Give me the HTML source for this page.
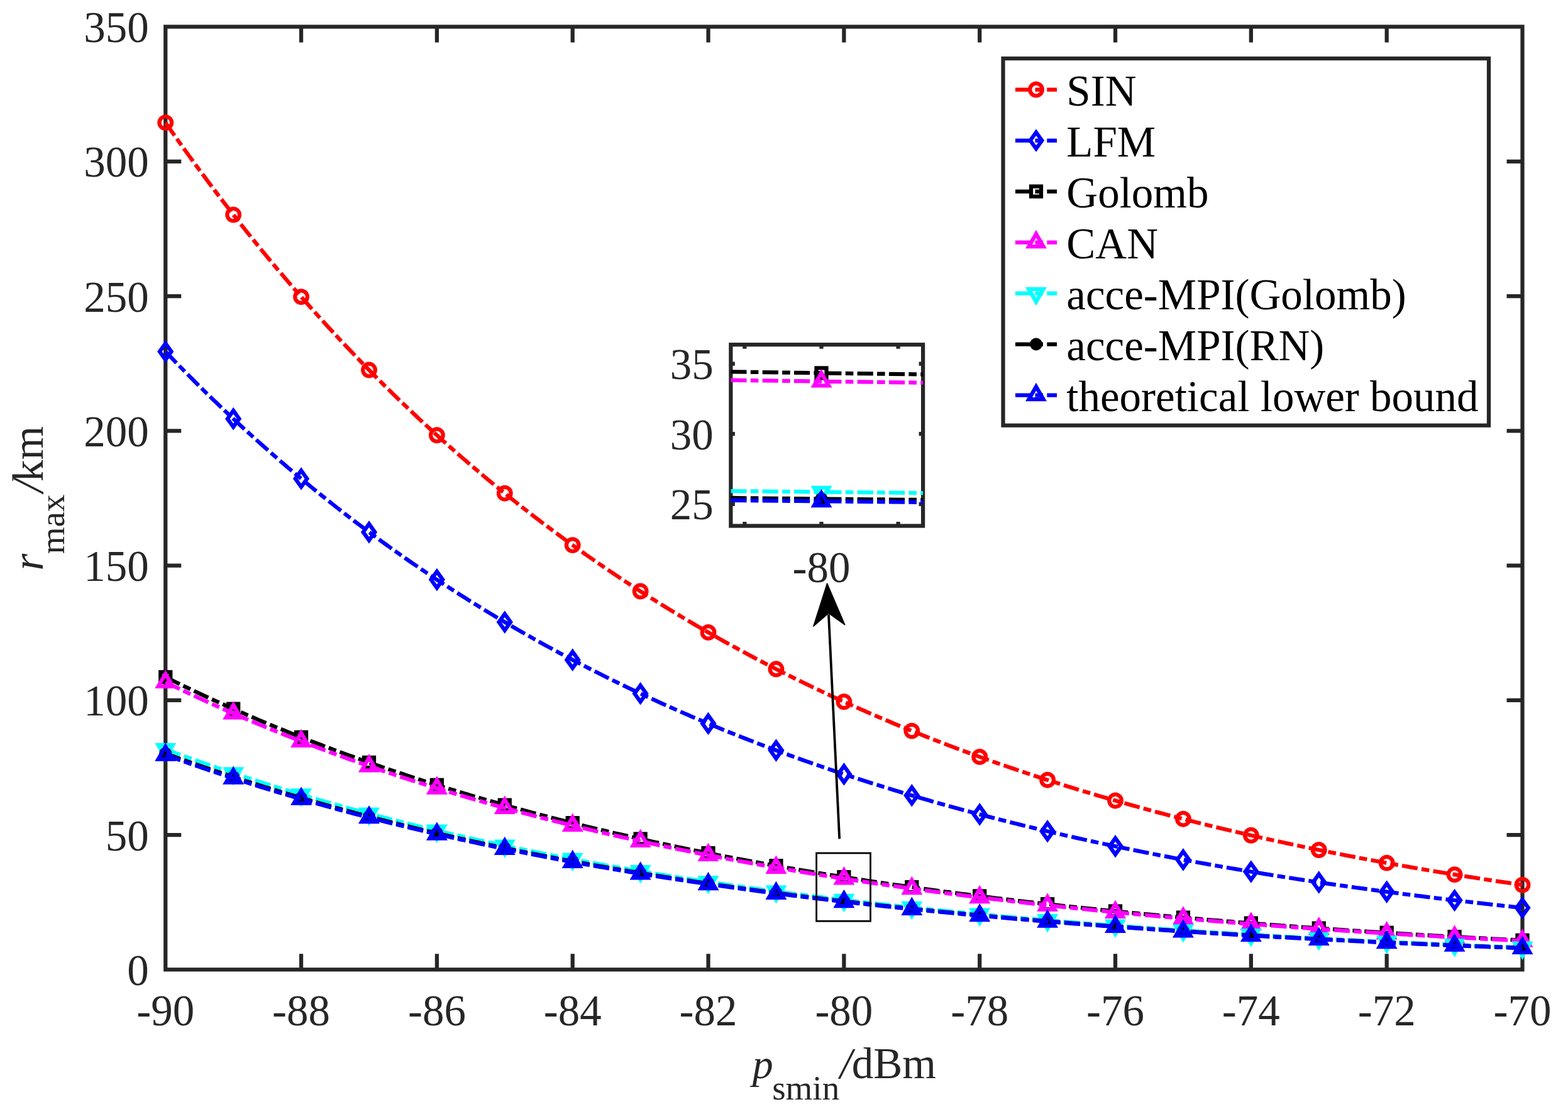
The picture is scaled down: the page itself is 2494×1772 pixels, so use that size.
<!DOCTYPE html>
<html><head><meta charset="utf-8"><title>plot</title>
<style>html,body{margin:0;padding:0;background:#fff;overflow:hidden}svg{display:block}</style></head>
<body><svg width="2494" height="1772" viewBox="0 0 2494 1772">
<rect x="0" y="0" width="2494" height="1772" fill="#fff"/>
<g stroke="#262626" stroke-width="6.25" fill="none">
<rect x="263.25" y="42.5" width="2158.25" height="1499.80"/>
<path d="M479.07,1542.3V1517.30M479.07,42.5V67.50M694.90,1542.3V1517.30M694.90,42.5V67.50M910.73,1542.3V1517.30M910.73,42.5V67.50M1126.55,1542.3V1517.30M1126.55,42.5V67.50M1342.38,1542.3V1517.30M1342.38,42.5V67.50M1558.20,1542.3V1517.30M1558.20,42.5V67.50M1774.03,1542.3V1517.30M1774.03,42.5V67.50M1989.85,1542.3V1517.30M1989.85,42.5V67.50M2205.68,1542.3V1517.30M2205.68,42.5V67.50M263.25,1328.04H288.25M2421.5,1328.04H2396.50M263.25,1113.79H288.25M2421.5,1113.79H2396.50M263.25,899.53H288.25M2421.5,899.53H2396.50M263.25,685.27H288.25M2421.5,685.27H2396.50M263.25,471.01H288.25M2421.5,471.01H2396.50M263.25,256.76H288.25M2421.5,256.76H2396.50"/>
</g>
<g style='font-family:"Liberation Serif",serif' font-size="69" fill="#262626">
<text x="263.25" y="1631.1" text-anchor="middle">-90</text>
<text x="479.07" y="1631.1" text-anchor="middle">-88</text>
<text x="694.90" y="1631.1" text-anchor="middle">-86</text>
<text x="910.73" y="1631.1" text-anchor="middle">-84</text>
<text x="1126.55" y="1631.1" text-anchor="middle">-82</text>
<text x="1342.38" y="1631.1" text-anchor="middle">-80</text>
<text x="1558.20" y="1631.1" text-anchor="middle">-78</text>
<text x="1774.03" y="1631.1" text-anchor="middle">-76</text>
<text x="1989.85" y="1631.1" text-anchor="middle">-74</text>
<text x="2205.68" y="1631.1" text-anchor="middle">-72</text>
<text x="2421.50" y="1631.1" text-anchor="middle">-70</text>
<text x="236.8" y="1567.00" text-anchor="end">0</text>
<text x="236.8" y="1352.74" text-anchor="end">50</text>
<text x="236.8" y="1138.49" text-anchor="end">100</text>
<text x="236.8" y="924.23" text-anchor="end">150</text>
<text x="236.8" y="709.97" text-anchor="end">200</text>
<text x="236.8" y="495.71" text-anchor="end">250</text>
<text x="236.8" y="281.46" text-anchor="end">300</text>
<text x="236.8" y="67.20" text-anchor="end">350</text>
</g>
<g style='font-family:"Liberation Serif",serif' fill="#262626">
<text x="1196.8" y="1714.9" font-size="66" font-style="italic">p</text>
<text x="1228.2" y="1749" font-size="55">smin</text>
<text x="1336.1" y="1714.9" font-size="69" font-style="italic">/</text>
<text x="1354.8" y="1714.9" font-size="69">dBm</text>
<g transform="rotate(-90)">
<text x="-907.6" y="68.4" font-size="69" font-style="italic">r</text>
<text x="-881.2" y="102.2" font-size="55">max</text>
<text x="-783.2" y="68.4" font-size="69" font-style="italic">/</text>
<text x="-766.1" y="68.4" font-size="69">km</text>
</g></g>
<polyline points="263.25,195.05 268.65,202.78 274.04,210.47 279.44,218.12 284.83,225.72 290.23,233.28 295.62,240.79 301.02,248.26 306.42,255.69 311.81,263.07 317.21,270.42 322.60,277.72 328.00,284.97 333.39,292.19 338.79,299.37 344.18,306.50 349.58,313.59 354.98,320.65 360.37,327.66 365.77,334.63 371.16,341.56 376.56,348.46 381.95,355.31 387.35,362.12 392.75,368.90 398.14,375.63 403.54,382.33 408.93,388.99 414.33,395.61 419.72,402.19 425.12,408.73 430.51,415.24 435.91,421.71 441.31,428.14 446.70,434.53 452.10,440.89 457.49,447.21 462.89,453.50 468.28,459.75 473.68,465.96 479.07,472.14 484.47,478.28 489.87,484.39 495.26,490.46 500.66,496.50 506.05,502.50 511.45,508.47 516.84,514.41 522.24,520.31 527.64,526.17 533.03,532.01 538.43,537.80 543.82,543.57 549.22,549.30 554.61,555.00 560.01,560.67 565.40,566.30 570.80,571.91 576.20,577.48 581.59,583.01 586.99,588.52 592.38,594.00 597.78,599.44 603.17,604.85 608.57,610.23 613.97,615.58 619.36,620.90 624.76,626.19 630.15,631.45 635.55,636.68 640.94,641.87 646.34,647.04 651.73,652.18 657.13,657.29 662.53,662.37 667.92,667.42 673.32,672.44 678.71,677.44 684.11,682.40 689.50,687.34 694.90,692.24 700.30,697.12 705.69,701.97 711.09,706.80 716.48,711.59 721.88,716.36 727.27,721.10 732.67,725.82 738.07,730.50 743.46,735.16 748.86,739.79 754.25,744.40 759.65,748.98 765.04,753.53 770.44,758.06 775.83,762.56 781.23,767.04 786.63,771.49 792.02,775.91 797.42,780.31 802.81,784.69 808.21,789.03 813.60,793.36 819.00,797.66 824.40,801.93 829.79,806.18 835.19,810.41 840.58,814.61 845.98,818.78 851.37,822.94 856.77,827.07 862.16,831.17 867.56,835.25 872.96,839.31 878.35,843.35 883.75,847.36 889.14,851.35 894.54,855.31 899.93,859.26 905.33,863.18 910.73,867.08 916.12,870.95 921.52,874.81 926.91,878.64 932.31,882.45 937.70,886.23 943.10,890.00 948.49,893.74 953.89,897.47 959.29,901.17 964.68,904.85 970.08,908.51 975.47,912.14 980.87,915.76 986.26,919.36 991.66,922.93 997.05,926.49 1002.45,930.02 1007.85,933.54 1013.24,937.03 1018.64,940.51 1024.03,943.96 1029.43,947.39 1034.82,950.81 1040.22,954.20 1045.62,957.58 1051.01,960.94 1056.41,964.27 1061.80,967.59 1067.20,970.89 1072.59,974.17 1077.99,977.43 1083.38,980.67 1088.78,983.90 1094.18,987.10 1099.57,990.29 1104.97,993.46 1110.36,996.61 1115.76,999.74 1121.15,1002.85 1126.55,1005.95 1131.95,1009.03 1137.34,1012.09 1142.74,1015.13 1148.13,1018.16 1153.53,1021.17 1158.92,1024.16 1164.32,1027.13 1169.72,1030.09 1175.11,1033.03 1180.51,1035.95 1185.90,1038.86 1191.30,1041.75 1196.69,1044.62 1202.09,1047.48 1207.48,1050.32 1212.88,1053.14 1218.28,1055.95 1223.67,1058.74 1229.07,1061.52 1234.46,1064.28 1239.86,1067.02 1245.25,1069.75 1250.65,1072.46 1256.05,1075.16 1261.44,1077.84 1266.84,1080.51 1272.23,1083.16 1277.63,1085.79 1283.02,1088.41 1288.42,1091.02 1293.81,1093.61 1299.21,1096.18 1304.61,1098.74 1310.00,1101.29 1315.40,1103.82 1320.79,1106.34 1326.19,1108.84 1331.58,1111.33 1336.98,1113.80 1342.38,1116.26 1347.77,1118.71 1353.17,1121.14 1358.56,1123.56 1363.96,1125.96 1369.35,1128.35 1374.75,1130.73 1380.14,1133.09 1385.54,1135.44 1390.94,1137.77 1396.33,1140.09 1401.73,1142.40 1407.12,1144.70 1412.52,1146.98 1417.91,1149.25 1423.31,1151.51 1428.70,1153.75 1434.10,1155.98 1439.50,1158.20 1444.89,1160.40 1450.29,1162.59 1455.68,1164.77 1461.08,1166.94 1466.47,1169.09 1471.87,1171.24 1477.27,1173.37 1482.66,1175.48 1488.06,1177.59 1493.45,1179.68 1498.85,1181.76 1504.24,1183.83 1509.64,1185.89 1515.03,1187.94 1520.43,1189.97 1525.83,1191.99 1531.22,1194.00 1536.62,1196.00 1542.01,1197.99 1547.41,1199.97 1552.80,1201.93 1558.20,1203.89 1563.60,1205.83 1568.99,1207.76 1574.39,1209.68 1579.78,1211.59 1585.18,1213.49 1590.57,1215.38 1595.97,1217.25 1601.37,1219.12 1606.76,1220.97 1612.16,1222.82 1617.55,1224.65 1622.95,1226.47 1628.34,1228.29 1633.74,1230.09 1639.13,1231.88 1644.53,1233.66 1649.93,1235.43 1655.32,1237.20 1660.72,1238.95 1666.11,1240.69 1671.51,1242.42 1676.90,1244.14 1682.30,1245.85 1687.70,1247.55 1693.09,1249.25 1698.49,1250.93 1703.88,1252.60 1709.28,1254.26 1714.67,1255.92 1720.07,1257.56 1725.46,1259.19 1730.86,1260.82 1736.26,1262.44 1741.65,1264.04 1747.05,1265.64 1752.44,1267.23 1757.84,1268.81 1763.23,1270.38 1768.63,1271.94 1774.03,1273.49 1779.42,1275.03 1784.82,1276.57 1790.21,1278.09 1795.61,1279.61 1801.00,1281.12 1806.40,1282.61 1811.79,1284.10 1817.19,1285.59 1822.59,1287.06 1827.98,1288.53 1833.38,1289.98 1838.77,1291.43 1844.17,1292.87 1849.56,1294.30 1854.96,1295.73 1860.35,1297.14 1865.75,1298.55 1871.15,1299.95 1876.54,1301.34 1881.94,1302.72 1887.33,1304.10 1892.73,1305.46 1898.12,1306.82 1903.52,1308.17 1908.92,1309.52 1914.31,1310.85 1919.71,1312.18 1925.10,1313.50 1930.50,1314.82 1935.89,1316.12 1941.29,1317.42 1946.68,1318.71 1952.08,1320.00 1957.48,1321.27 1962.87,1322.54 1968.27,1323.80 1973.66,1325.06 1979.06,1326.30 1984.45,1327.54 1989.85,1328.78 1995.25,1330.00 2000.64,1331.22 2006.04,1332.43 2011.43,1333.64 2016.83,1334.83 2022.22,1336.02 2027.62,1337.21 2033.02,1338.39 2038.41,1339.56 2043.81,1340.72 2049.20,1341.88 2054.60,1343.03 2059.99,1344.17 2065.39,1345.31 2070.78,1346.44 2076.18,1347.56 2081.58,1348.68 2086.97,1349.79 2092.37,1350.90 2097.76,1352.00 2103.16,1353.09 2108.55,1354.17 2113.95,1355.25 2119.35,1356.33 2124.74,1357.40 2130.14,1358.46 2135.53,1359.51 2140.93,1360.56 2146.32,1361.60 2151.72,1362.64 2157.11,1363.67 2162.51,1364.70 2167.91,1365.72 2173.30,1366.73 2178.70,1367.74 2184.09,1368.74 2189.49,1369.74 2194.88,1370.73 2200.28,1371.71 2205.68,1372.69 2211.07,1373.66 2216.47,1374.63 2221.86,1375.60 2227.26,1376.55 2232.65,1377.50 2238.05,1378.45 2243.44,1379.39 2248.84,1380.33 2254.24,1381.25 2259.63,1382.18 2265.03,1383.10 2270.42,1384.01 2275.82,1384.92 2281.21,1385.82 2286.61,1386.72 2292.00,1387.62 2297.40,1388.50 2302.80,1389.39 2308.19,1390.26 2313.59,1391.14 2318.98,1392.00 2324.38,1392.87 2329.77,1393.72 2335.17,1394.58 2340.57,1395.43 2345.96,1396.27 2351.36,1397.11 2356.75,1397.94 2362.15,1398.77 2367.54,1399.59 2372.94,1400.41 2378.33,1401.23 2383.73,1402.04 2389.13,1402.84 2394.52,1403.64 2399.92,1404.44 2405.31,1405.23 2410.71,1406.02 2416.10,1406.80 2421.50,1407.58" fill="none" stroke="#ff0000" stroke-width="6.25" stroke-dasharray="25.15 6.29 12.58 6.29" stroke-linejoin="round"/>
<circle cx="263.25" cy="195.05" r="9.8" stroke="#ff0000" stroke-width="6.25" fill="none"/>
<circle cx="371.16" cy="341.56" r="9.8" stroke="#ff0000" stroke-width="6.25" fill="none"/>
<circle cx="479.07" cy="472.14" r="9.8" stroke="#ff0000" stroke-width="6.25" fill="none"/>
<circle cx="586.99" cy="588.52" r="9.8" stroke="#ff0000" stroke-width="6.25" fill="none"/>
<circle cx="694.90" cy="692.24" r="9.8" stroke="#ff0000" stroke-width="6.25" fill="none"/>
<circle cx="802.81" cy="784.69" r="9.8" stroke="#ff0000" stroke-width="6.25" fill="none"/>
<circle cx="910.73" cy="867.08" r="9.8" stroke="#ff0000" stroke-width="6.25" fill="none"/>
<circle cx="1018.64" cy="940.51" r="9.8" stroke="#ff0000" stroke-width="6.25" fill="none"/>
<circle cx="1126.55" cy="1005.95" r="9.8" stroke="#ff0000" stroke-width="6.25" fill="none"/>
<circle cx="1234.46" cy="1064.28" r="9.8" stroke="#ff0000" stroke-width="6.25" fill="none"/>
<circle cx="1342.38" cy="1116.26" r="9.8" stroke="#ff0000" stroke-width="6.25" fill="none"/>
<circle cx="1450.29" cy="1162.59" r="9.8" stroke="#ff0000" stroke-width="6.25" fill="none"/>
<circle cx="1558.20" cy="1203.89" r="9.8" stroke="#ff0000" stroke-width="6.25" fill="none"/>
<circle cx="1666.11" cy="1240.69" r="9.8" stroke="#ff0000" stroke-width="6.25" fill="none"/>
<circle cx="1774.03" cy="1273.49" r="9.8" stroke="#ff0000" stroke-width="6.25" fill="none"/>
<circle cx="1881.94" cy="1302.72" r="9.8" stroke="#ff0000" stroke-width="6.25" fill="none"/>
<circle cx="1989.85" cy="1328.78" r="9.8" stroke="#ff0000" stroke-width="6.25" fill="none"/>
<circle cx="2097.76" cy="1352.00" r="9.8" stroke="#ff0000" stroke-width="6.25" fill="none"/>
<circle cx="2205.68" cy="1372.69" r="9.8" stroke="#ff0000" stroke-width="6.25" fill="none"/>
<circle cx="2313.59" cy="1391.14" r="9.8" stroke="#ff0000" stroke-width="6.25" fill="none"/>
<circle cx="2421.50" cy="1407.58" r="9.8" stroke="#ff0000" stroke-width="6.25" fill="none"/>
<polyline points="263.25,559.29 268.65,564.93 274.04,570.54 279.44,576.12 284.83,581.66 290.23,587.18 295.62,592.66 301.02,598.11 306.42,603.53 311.81,608.92 317.21,614.28 322.60,619.60 328.00,624.90 333.39,630.17 338.79,635.40 344.18,640.61 349.58,645.78 354.98,650.93 360.37,656.04 365.77,661.13 371.16,666.19 376.56,671.22 381.95,676.22 387.35,681.19 392.75,686.13 398.14,691.05 403.54,695.93 408.93,700.79 414.33,705.62 419.72,710.42 425.12,715.20 430.51,719.95 435.91,724.67 441.31,729.36 446.70,734.03 452.10,738.67 457.49,743.28 462.89,747.86 468.28,752.42 473.68,756.96 479.07,761.47 484.47,765.95 489.87,770.40 495.26,774.83 500.66,779.24 506.05,783.62 511.45,787.97 516.84,792.30 522.24,796.61 527.64,800.89 533.03,805.15 538.43,809.38 543.82,813.58 549.22,817.77 554.61,821.92 560.01,826.06 565.40,830.17 570.80,834.26 576.20,838.32 581.59,842.36 586.99,846.38 592.38,850.38 597.78,854.35 603.17,858.30 608.57,862.22 613.97,866.13 619.36,870.01 624.76,873.87 630.15,877.70 635.55,881.52 640.94,885.31 646.34,889.08 651.73,892.83 657.13,896.56 662.53,900.26 667.92,903.95 673.32,907.61 678.71,911.26 684.11,914.88 689.50,918.48 694.90,922.06 700.30,925.62 705.69,929.16 711.09,932.68 716.48,936.18 721.88,939.66 727.27,943.12 732.67,946.56 738.07,949.98 743.46,953.38 748.86,956.76 754.25,960.12 759.65,963.46 765.04,966.78 770.44,970.09 775.83,973.37 781.23,976.64 786.63,979.88 792.02,983.11 797.42,986.32 802.81,989.51 808.21,992.68 813.60,995.84 819.00,998.98 824.40,1002.09 829.79,1005.20 835.19,1008.28 840.58,1011.34 845.98,1014.39 851.37,1017.42 856.77,1020.43 862.16,1023.43 867.56,1026.41 872.96,1029.37 878.35,1032.31 883.75,1035.24 889.14,1038.15 894.54,1041.04 899.93,1043.92 905.33,1046.78 910.73,1049.63 916.12,1052.45 921.52,1055.27 926.91,1058.06 932.31,1060.84 937.70,1063.61 943.10,1066.35 948.49,1069.08 953.89,1071.80 959.29,1074.50 964.68,1077.19 970.08,1079.86 975.47,1082.51 980.87,1085.15 986.26,1087.77 991.66,1090.38 997.05,1092.98 1002.45,1095.56 1007.85,1098.12 1013.24,1100.67 1018.64,1103.20 1024.03,1105.73 1029.43,1108.23 1034.82,1110.72 1040.22,1113.20 1045.62,1115.66 1051.01,1118.11 1056.41,1120.55 1061.80,1122.97 1067.20,1125.37 1072.59,1127.77 1077.99,1130.15 1083.38,1132.51 1088.78,1134.86 1094.18,1137.20 1099.57,1139.53 1104.97,1141.84 1110.36,1144.14 1115.76,1146.42 1121.15,1148.70 1126.55,1150.96 1131.95,1153.20 1137.34,1155.44 1142.74,1157.66 1148.13,1159.86 1153.53,1162.06 1158.92,1164.24 1164.32,1166.41 1169.72,1168.57 1175.11,1170.71 1180.51,1172.85 1185.90,1174.97 1191.30,1177.08 1196.69,1179.17 1202.09,1181.26 1207.48,1183.33 1212.88,1185.39 1218.28,1187.44 1223.67,1189.48 1229.07,1191.50 1234.46,1193.51 1239.86,1195.52 1245.25,1197.51 1250.65,1199.49 1256.05,1201.45 1261.44,1203.41 1266.84,1205.36 1272.23,1207.29 1277.63,1209.21 1283.02,1211.12 1288.42,1213.03 1293.81,1214.92 1299.21,1216.79 1304.61,1218.66 1310.00,1220.52 1315.40,1222.37 1320.79,1224.20 1326.19,1226.03 1331.58,1227.84 1336.98,1229.65 1342.38,1231.44 1347.77,1233.23 1353.17,1235.00 1358.56,1236.77 1363.96,1238.52 1369.35,1240.26 1374.75,1242.00 1380.14,1243.72 1385.54,1245.44 1390.94,1247.14 1396.33,1248.83 1401.73,1250.52 1407.12,1252.19 1412.52,1253.86 1417.91,1255.51 1423.31,1257.16 1428.70,1258.80 1434.10,1260.42 1439.50,1262.04 1444.89,1263.65 1450.29,1265.25 1455.68,1266.84 1461.08,1268.42 1466.47,1269.99 1471.87,1271.56 1477.27,1273.11 1482.66,1274.66 1488.06,1276.19 1493.45,1277.72 1498.85,1279.24 1504.24,1280.75 1509.64,1282.25 1515.03,1283.74 1520.43,1285.23 1525.83,1286.70 1531.22,1288.17 1536.62,1289.63 1542.01,1291.08 1547.41,1292.52 1552.80,1293.95 1558.20,1295.38 1563.60,1296.80 1568.99,1298.21 1574.39,1299.61 1579.78,1301.00 1585.18,1302.38 1590.57,1303.76 1595.97,1305.13 1601.37,1306.49 1606.76,1307.85 1612.16,1309.19 1617.55,1310.53 1622.95,1311.86 1628.34,1313.18 1633.74,1314.50 1639.13,1315.80 1644.53,1317.11 1649.93,1318.40 1655.32,1319.68 1660.72,1320.96 1666.11,1322.23 1671.51,1323.49 1676.90,1324.75 1682.30,1326.00 1687.70,1327.24 1693.09,1328.47 1698.49,1329.70 1703.88,1330.92 1709.28,1332.14 1714.67,1333.34 1720.07,1334.54 1725.46,1335.73 1730.86,1336.92 1736.26,1338.10 1741.65,1339.27 1747.05,1340.44 1752.44,1341.59 1757.84,1342.75 1763.23,1343.89 1768.63,1345.03 1774.03,1346.16 1779.42,1347.29 1784.82,1348.41 1790.21,1349.52 1795.61,1350.63 1801.00,1351.73 1806.40,1352.82 1811.79,1353.91 1817.19,1354.99 1822.59,1356.07 1827.98,1357.14 1833.38,1358.20 1838.77,1359.25 1844.17,1360.31 1849.56,1361.35 1854.96,1362.39 1860.35,1363.42 1865.75,1364.45 1871.15,1365.47 1876.54,1366.48 1881.94,1367.49 1887.33,1368.50 1892.73,1369.49 1898.12,1370.49 1903.52,1371.47 1908.92,1372.45 1914.31,1373.43 1919.71,1374.40 1925.10,1375.36 1930.50,1376.32 1935.89,1377.27 1941.29,1378.22 1946.68,1379.16 1952.08,1380.10 1957.48,1381.03 1962.87,1381.95 1968.27,1382.87 1973.66,1383.79 1979.06,1384.70 1984.45,1385.60 1989.85,1386.50 1995.25,1387.40 2000.64,1388.29 2006.04,1389.17 2011.43,1390.05 2016.83,1390.92 2022.22,1391.79 2027.62,1392.66 2033.02,1393.52 2038.41,1394.37 2043.81,1395.22 2049.20,1396.06 2054.60,1396.90 2059.99,1397.74 2065.39,1398.57 2070.78,1399.39 2076.18,1400.21 2081.58,1401.03 2086.97,1401.84 2092.37,1402.64 2097.76,1403.45 2103.16,1404.24 2108.55,1405.04 2113.95,1405.82 2119.35,1406.61 2124.74,1407.39 2130.14,1408.16 2135.53,1408.93 2140.93,1409.70 2146.32,1410.46 2151.72,1411.21 2157.11,1411.97 2162.51,1412.71 2167.91,1413.46 2173.30,1414.20 2178.70,1414.93 2184.09,1415.66 2189.49,1416.39 2194.88,1417.11 2200.28,1417.83 2205.68,1418.55 2211.07,1419.26 2216.47,1419.96 2221.86,1420.66 2227.26,1421.36 2232.65,1422.06 2238.05,1422.75 2243.44,1423.43 2248.84,1424.12 2254.24,1424.79 2259.63,1425.47 2265.03,1426.14 2270.42,1426.81 2275.82,1427.47 2281.21,1428.13 2286.61,1428.78 2292.00,1429.44 2297.40,1430.08 2302.80,1430.73 2308.19,1431.37 2313.59,1432.00 2318.98,1432.64 2324.38,1433.27 2329.77,1433.89 2335.17,1434.51 2340.57,1435.13 2345.96,1435.75 2351.36,1436.36 2356.75,1436.97 2362.15,1437.57 2367.54,1438.17 2372.94,1438.77 2378.33,1439.37 2383.73,1439.96 2389.13,1440.54 2394.52,1441.13 2399.92,1441.71 2405.31,1442.29 2410.71,1442.86 2416.10,1443.43 2421.50,1444.00" fill="none" stroke="#0000ff" stroke-width="6.25" stroke-dasharray="25.15 6.29 12.58 6.29" stroke-linejoin="round"/>
<polygon points="263.25,546.29 272.55,559.29 263.25,572.29 253.95,559.29" stroke="#0000ff" stroke-width="6.25" fill="none" stroke-miterlimit="10"/>
<polygon points="371.16,653.19 380.46,666.19 371.16,679.19 361.86,666.19" stroke="#0000ff" stroke-width="6.25" fill="none" stroke-miterlimit="10"/>
<polygon points="479.07,748.47 488.38,761.47 479.07,774.47 469.77,761.47" stroke="#0000ff" stroke-width="6.25" fill="none" stroke-miterlimit="10"/>
<polygon points="586.99,833.38 596.29,846.38 586.99,859.38 577.69,846.38" stroke="#0000ff" stroke-width="6.25" fill="none" stroke-miterlimit="10"/>
<polygon points="694.90,909.06 704.20,922.06 694.90,935.06 685.60,922.06" stroke="#0000ff" stroke-width="6.25" fill="none" stroke-miterlimit="10"/>
<polygon points="802.81,976.51 812.11,989.51 802.81,1002.51 793.51,989.51" stroke="#0000ff" stroke-width="6.25" fill="none" stroke-miterlimit="10"/>
<polygon points="910.73,1036.63 920.02,1049.63 910.73,1062.63 901.43,1049.63" stroke="#0000ff" stroke-width="6.25" fill="none" stroke-miterlimit="10"/>
<polygon points="1018.64,1090.20 1027.94,1103.20 1018.64,1116.20 1009.34,1103.20" stroke="#0000ff" stroke-width="6.25" fill="none" stroke-miterlimit="10"/>
<polygon points="1126.55,1137.96 1135.85,1150.96 1126.55,1163.96 1117.25,1150.96" stroke="#0000ff" stroke-width="6.25" fill="none" stroke-miterlimit="10"/>
<polygon points="1234.46,1180.51 1243.76,1193.51 1234.46,1206.51 1225.16,1193.51" stroke="#0000ff" stroke-width="6.25" fill="none" stroke-miterlimit="10"/>
<polygon points="1342.38,1218.44 1351.67,1231.44 1342.38,1244.44 1333.08,1231.44" stroke="#0000ff" stroke-width="6.25" fill="none" stroke-miterlimit="10"/>
<polygon points="1450.29,1252.25 1459.59,1265.25 1450.29,1278.25 1440.99,1265.25" stroke="#0000ff" stroke-width="6.25" fill="none" stroke-miterlimit="10"/>
<polygon points="1558.20,1282.38 1567.50,1295.38 1558.20,1308.38 1548.90,1295.38" stroke="#0000ff" stroke-width="6.25" fill="none" stroke-miterlimit="10"/>
<polygon points="1666.11,1309.23 1675.41,1322.23 1666.11,1335.23 1656.81,1322.23" stroke="#0000ff" stroke-width="6.25" fill="none" stroke-miterlimit="10"/>
<polygon points="1774.03,1333.16 1783.33,1346.16 1774.03,1359.16 1764.73,1346.16" stroke="#0000ff" stroke-width="6.25" fill="none" stroke-miterlimit="10"/>
<polygon points="1881.94,1354.49 1891.24,1367.49 1881.94,1380.49 1872.64,1367.49" stroke="#0000ff" stroke-width="6.25" fill="none" stroke-miterlimit="10"/>
<polygon points="1989.85,1373.50 1999.15,1386.50 1989.85,1399.50 1980.55,1386.50" stroke="#0000ff" stroke-width="6.25" fill="none" stroke-miterlimit="10"/>
<polygon points="2097.76,1390.45 2107.06,1403.45 2097.76,1416.45 2088.46,1403.45" stroke="#0000ff" stroke-width="6.25" fill="none" stroke-miterlimit="10"/>
<polygon points="2205.68,1405.55 2214.98,1418.55 2205.68,1431.55 2196.38,1418.55" stroke="#0000ff" stroke-width="6.25" fill="none" stroke-miterlimit="10"/>
<polygon points="2313.59,1419.00 2322.89,1432.00 2313.59,1445.00 2304.29,1432.00" stroke="#0000ff" stroke-width="6.25" fill="none" stroke-miterlimit="10"/>
<polygon points="2421.50,1431.00 2430.80,1444.00 2421.50,1457.00 2412.20,1444.00" stroke="#0000ff" stroke-width="6.25" fill="none" stroke-miterlimit="10"/>
<polyline points="263.25,1077.02 268.65,1079.69 274.04,1082.35 279.44,1084.99 284.83,1087.61 290.23,1090.22 295.62,1092.82 301.02,1095.40 306.42,1097.96 311.81,1100.51 317.21,1103.05 322.60,1105.57 328.00,1108.07 333.39,1110.57 338.79,1113.05 344.18,1115.51 349.58,1117.96 354.98,1120.39 360.37,1122.82 365.77,1125.22 371.16,1127.62 376.56,1130.00 381.95,1132.36 387.35,1134.72 392.75,1137.06 398.14,1139.38 403.54,1141.70 408.93,1144.00 414.33,1146.28 419.72,1148.55 425.12,1150.81 430.51,1153.06 435.91,1155.30 441.31,1157.52 446.70,1159.73 452.10,1161.92 457.49,1164.11 462.89,1166.28 468.28,1168.43 473.68,1170.58 479.07,1172.71 484.47,1174.84 489.87,1176.94 495.26,1179.04 500.66,1181.13 506.05,1183.20 511.45,1185.26 516.84,1187.31 522.24,1189.35 527.64,1191.37 533.03,1193.39 538.43,1195.39 543.82,1197.38 549.22,1199.36 554.61,1201.33 560.01,1203.29 565.40,1205.23 570.80,1207.17 576.20,1209.09 581.59,1211.00 586.99,1212.91 592.38,1214.80 597.78,1216.68 603.17,1218.55 608.57,1220.40 613.97,1222.25 619.36,1224.09 624.76,1225.92 630.15,1227.73 635.55,1229.54 640.94,1231.33 646.34,1233.12 651.73,1234.89 657.13,1236.66 662.53,1238.41 667.92,1240.16 673.32,1241.89 678.71,1243.61 684.11,1245.33 689.50,1247.03 694.90,1248.73 700.30,1250.41 705.69,1252.09 711.09,1253.75 716.48,1255.41 721.88,1257.06 727.27,1258.69 732.67,1260.32 738.07,1261.94 743.46,1263.55 748.86,1265.15 754.25,1266.74 759.65,1268.32 765.04,1269.89 770.44,1271.46 775.83,1273.01 781.23,1274.56 786.63,1276.10 792.02,1277.62 797.42,1279.14 802.81,1280.65 808.21,1282.16 813.60,1283.65 819.00,1285.13 824.40,1286.61 829.79,1288.08 835.19,1289.54 840.58,1290.99 845.98,1292.43 851.37,1293.86 856.77,1295.29 862.16,1296.71 867.56,1298.12 872.96,1299.52 878.35,1300.91 883.75,1302.30 889.14,1303.68 894.54,1305.05 899.93,1306.41 905.33,1307.76 910.73,1309.11 916.12,1310.45 921.52,1311.78 926.91,1313.10 932.31,1314.42 937.70,1315.72 943.10,1317.02 948.49,1318.32 953.89,1319.60 959.29,1320.88 964.68,1322.15 970.08,1323.42 975.47,1324.67 980.87,1325.92 986.26,1327.16 991.66,1328.40 997.05,1329.63 1002.45,1330.85 1007.85,1332.06 1013.24,1333.27 1018.64,1334.47 1024.03,1335.66 1029.43,1336.85 1034.82,1338.03 1040.22,1339.20 1045.62,1340.36 1051.01,1341.52 1056.41,1342.67 1061.80,1343.82 1067.20,1344.96 1072.59,1346.09 1077.99,1347.22 1083.38,1348.34 1088.78,1349.45 1094.18,1350.56 1099.57,1351.66 1104.97,1352.75 1110.36,1353.84 1115.76,1354.92 1121.15,1356.00 1126.55,1357.07 1131.95,1358.13 1137.34,1359.19 1142.74,1360.24 1148.13,1361.28 1153.53,1362.32 1158.92,1363.36 1164.32,1364.38 1169.72,1365.41 1175.11,1366.42 1180.51,1367.43 1185.90,1368.43 1191.30,1369.43 1196.69,1370.42 1202.09,1371.41 1207.48,1372.39 1212.88,1373.37 1218.28,1374.34 1223.67,1375.30 1229.07,1376.26 1234.46,1377.21 1239.86,1378.16 1245.25,1379.10 1250.65,1380.04 1256.05,1380.97 1261.44,1381.90 1266.84,1382.82 1272.23,1383.73 1277.63,1384.64 1283.02,1385.55 1288.42,1386.45 1293.81,1387.34 1299.21,1388.23 1304.61,1389.12 1310.00,1389.99 1315.40,1390.87 1320.79,1391.74 1326.19,1392.60 1331.58,1393.46 1336.98,1394.32 1342.38,1395.17 1347.77,1396.01 1353.17,1396.85 1358.56,1397.68 1363.96,1398.51 1369.35,1399.34 1374.75,1400.16 1380.14,1400.98 1385.54,1401.79 1390.94,1402.59 1396.33,1403.40 1401.73,1404.19 1407.12,1404.99 1412.52,1405.77 1417.91,1406.56 1423.31,1407.34 1428.70,1408.11 1434.10,1408.88 1439.50,1409.65 1444.89,1410.41 1450.29,1411.17 1455.68,1411.92 1461.08,1412.67 1466.47,1413.41 1471.87,1414.15 1477.27,1414.89 1482.66,1415.62 1488.06,1416.35 1493.45,1417.07 1498.85,1417.79 1504.24,1418.50 1509.64,1419.21 1515.03,1419.92 1520.43,1420.62 1525.83,1421.32 1531.22,1422.01 1536.62,1422.70 1542.01,1423.39 1547.41,1424.07 1552.80,1424.75 1558.20,1425.43 1563.60,1426.10 1568.99,1426.76 1574.39,1427.43 1579.78,1428.09 1585.18,1428.74 1590.57,1429.39 1595.97,1430.04 1601.37,1430.69 1606.76,1431.33 1612.16,1431.96 1617.55,1432.60 1622.95,1433.23 1628.34,1433.85 1633.74,1434.48 1639.13,1435.09 1644.53,1435.71 1649.93,1436.32 1655.32,1436.93 1660.72,1437.54 1666.11,1438.14 1671.51,1438.73 1676.90,1439.33 1682.30,1439.92 1687.70,1440.51 1693.09,1441.09 1698.49,1441.67 1703.88,1442.25 1709.28,1442.82 1714.67,1443.40 1720.07,1443.96 1725.46,1444.53 1730.86,1445.09 1736.26,1445.65 1741.65,1446.20 1747.05,1446.75 1752.44,1447.30 1757.84,1447.85 1763.23,1448.39 1768.63,1448.93 1774.03,1449.46 1779.42,1450.00 1784.82,1450.53 1790.21,1451.05 1795.61,1451.58 1801.00,1452.10 1806.40,1452.62 1811.79,1453.13 1817.19,1453.64 1822.59,1454.15 1827.98,1454.66 1833.38,1455.16 1838.77,1455.66 1844.17,1456.16 1849.56,1456.65 1854.96,1457.14 1860.35,1457.63 1865.75,1458.12 1871.15,1458.60 1876.54,1459.08 1881.94,1459.56 1887.33,1460.03 1892.73,1460.51 1898.12,1460.98 1903.52,1461.44 1908.92,1461.91 1914.31,1462.37 1919.71,1462.83 1925.10,1463.28 1930.50,1463.74 1935.89,1464.19 1941.29,1464.64 1946.68,1465.08 1952.08,1465.53 1957.48,1465.97 1962.87,1466.40 1968.27,1466.84 1973.66,1467.27 1979.06,1467.70 1984.45,1468.13 1989.85,1468.56 1995.25,1468.98 2000.64,1469.40 2006.04,1469.82 2011.43,1470.24 2016.83,1470.65 2022.22,1471.06 2027.62,1471.47 2033.02,1471.88 2038.41,1472.28 2043.81,1472.68 2049.20,1473.08 2054.60,1473.48 2059.99,1473.87 2065.39,1474.27 2070.78,1474.66 2076.18,1475.05 2081.58,1475.43 2086.97,1475.82 2092.37,1476.20 2097.76,1476.58 2103.16,1476.95 2108.55,1477.33 2113.95,1477.70 2119.35,1478.07 2124.74,1478.44 2130.14,1478.81 2135.53,1479.17 2140.93,1479.54 2146.32,1479.90 2151.72,1480.25 2157.11,1480.61 2162.51,1480.96 2167.91,1481.32 2173.30,1481.67 2178.70,1482.01 2184.09,1482.36 2189.49,1482.70 2194.88,1483.05 2200.28,1483.39 2205.68,1483.72 2211.07,1484.06 2216.47,1484.40 2221.86,1484.73 2227.26,1485.06 2232.65,1485.39 2238.05,1485.71 2243.44,1486.04 2248.84,1486.36 2254.24,1486.68 2259.63,1487.00 2265.03,1487.32 2270.42,1487.63 2275.82,1487.95 2281.21,1488.26 2286.61,1488.57 2292.00,1488.88 2297.40,1489.19 2302.80,1489.49 2308.19,1489.79 2313.59,1490.09 2318.98,1490.39 2324.38,1490.69 2329.77,1490.99 2335.17,1491.28 2340.57,1491.58 2345.96,1491.87 2351.36,1492.16 2356.75,1492.44 2362.15,1492.73 2367.54,1493.01 2372.94,1493.30 2378.33,1493.58 2383.73,1493.86 2389.13,1494.14 2394.52,1494.41 2399.92,1494.69 2405.31,1494.96 2410.71,1495.23 2416.10,1495.50 2421.50,1495.77" fill="none" stroke="#000000" stroke-width="6.25" stroke-dasharray="25.15 6.29 12.58 6.29" stroke-linejoin="round"/>
<rect x="255.25" y="1069.02" width="16.0" height="16.0" stroke="#000000" stroke-width="6.25" fill="none"/>
<rect x="363.16" y="1119.62" width="16.0" height="16.0" stroke="#000000" stroke-width="6.25" fill="none"/>
<rect x="471.07" y="1164.71" width="16.0" height="16.0" stroke="#000000" stroke-width="6.25" fill="none"/>
<rect x="578.99" y="1204.91" width="16.0" height="16.0" stroke="#000000" stroke-width="6.25" fill="none"/>
<rect x="686.90" y="1240.73" width="16.0" height="16.0" stroke="#000000" stroke-width="6.25" fill="none"/>
<rect x="794.81" y="1272.65" width="16.0" height="16.0" stroke="#000000" stroke-width="6.25" fill="none"/>
<rect x="902.73" y="1301.11" width="16.0" height="16.0" stroke="#000000" stroke-width="6.25" fill="none"/>
<rect x="1010.64" y="1326.47" width="16.0" height="16.0" stroke="#000000" stroke-width="6.25" fill="none"/>
<rect x="1118.55" y="1349.07" width="16.0" height="16.0" stroke="#000000" stroke-width="6.25" fill="none"/>
<rect x="1226.46" y="1369.21" width="16.0" height="16.0" stroke="#000000" stroke-width="6.25" fill="none"/>
<rect x="1334.38" y="1387.17" width="16.0" height="16.0" stroke="#000000" stroke-width="6.25" fill="none"/>
<rect x="1442.29" y="1403.17" width="16.0" height="16.0" stroke="#000000" stroke-width="6.25" fill="none"/>
<rect x="1550.20" y="1417.43" width="16.0" height="16.0" stroke="#000000" stroke-width="6.25" fill="none"/>
<rect x="1658.11" y="1430.14" width="16.0" height="16.0" stroke="#000000" stroke-width="6.25" fill="none"/>
<rect x="1766.03" y="1441.46" width="16.0" height="16.0" stroke="#000000" stroke-width="6.25" fill="none"/>
<rect x="1873.94" y="1451.56" width="16.0" height="16.0" stroke="#000000" stroke-width="6.25" fill="none"/>
<rect x="1981.85" y="1460.56" width="16.0" height="16.0" stroke="#000000" stroke-width="6.25" fill="none"/>
<rect x="2089.76" y="1468.58" width="16.0" height="16.0" stroke="#000000" stroke-width="6.25" fill="none"/>
<rect x="2197.68" y="1475.72" width="16.0" height="16.0" stroke="#000000" stroke-width="6.25" fill="none"/>
<rect x="2305.59" y="1482.09" width="16.0" height="16.0" stroke="#000000" stroke-width="6.25" fill="none"/>
<rect x="2413.50" y="1487.77" width="16.0" height="16.0" stroke="#000000" stroke-width="6.25" fill="none"/>
<polyline points="263.25,1085.08 268.65,1087.70 274.04,1090.31 279.44,1092.90 284.83,1095.48 290.23,1098.05 295.62,1100.60 301.02,1103.13 306.42,1105.65 311.81,1108.16 317.21,1110.65 322.60,1113.13 328.00,1115.59 333.39,1118.04 338.79,1120.48 344.18,1122.90 349.58,1125.31 354.98,1127.70 360.37,1130.08 365.77,1132.45 371.16,1134.80 376.56,1137.14 381.95,1139.46 387.35,1141.77 392.75,1144.07 398.14,1146.36 403.54,1148.63 408.93,1150.89 414.33,1153.14 419.72,1155.37 425.12,1157.59 430.51,1159.80 435.91,1162.00 441.31,1164.18 446.70,1166.35 452.10,1168.51 457.49,1170.65 462.89,1172.79 468.28,1174.91 473.68,1177.02 479.07,1179.11 484.47,1181.20 489.87,1183.27 495.26,1185.33 500.66,1187.38 506.05,1189.42 511.45,1191.44 516.84,1193.46 522.24,1195.46 527.64,1197.45 533.03,1199.43 538.43,1201.40 543.82,1203.35 549.22,1205.30 554.61,1207.23 560.01,1209.16 565.40,1211.07 570.80,1212.97 576.20,1214.86 581.59,1216.74 586.99,1218.61 592.38,1220.47 597.78,1222.31 603.17,1224.15 608.57,1225.98 613.97,1227.79 619.36,1229.60 624.76,1231.39 630.15,1233.18 635.55,1234.95 640.94,1236.72 646.34,1238.47 651.73,1240.21 657.13,1241.95 662.53,1243.67 667.92,1245.39 673.32,1247.09 678.71,1248.79 684.11,1250.47 689.50,1252.15 694.90,1253.81 700.30,1255.47 705.69,1257.11 711.09,1258.75 716.48,1260.38 721.88,1262.00 727.27,1263.60 732.67,1265.20 738.07,1266.79 743.46,1268.38 748.86,1269.95 754.25,1271.51 759.65,1273.07 765.04,1274.61 770.44,1276.15 775.83,1277.68 781.23,1279.19 786.63,1280.70 792.02,1282.21 797.42,1283.70 802.81,1285.18 808.21,1286.66 813.60,1288.13 819.00,1289.59 824.40,1291.04 829.79,1292.48 835.19,1293.91 840.58,1295.34 845.98,1296.76 851.37,1298.17 856.77,1299.57 862.16,1300.96 867.56,1302.35 872.96,1303.72 878.35,1305.09 883.75,1306.45 889.14,1307.81 894.54,1309.15 899.93,1310.49 905.33,1311.82 910.73,1313.14 916.12,1314.46 921.52,1315.77 926.91,1317.07 932.31,1318.36 937.70,1319.65 943.10,1320.92 948.49,1322.20 953.89,1323.46 959.29,1324.71 964.68,1325.96 970.08,1327.21 975.47,1328.44 980.87,1329.67 986.26,1330.89 991.66,1332.10 997.05,1333.31 1002.45,1334.51 1007.85,1335.70 1013.24,1336.89 1018.64,1338.07 1024.03,1339.24 1029.43,1340.40 1034.82,1341.56 1040.22,1342.71 1045.62,1343.86 1051.01,1345.00 1056.41,1346.13 1061.80,1347.26 1067.20,1348.38 1072.59,1349.49 1077.99,1350.60 1083.38,1351.70 1088.78,1352.79 1094.18,1353.88 1099.57,1354.96 1104.97,1356.04 1110.36,1357.10 1115.76,1358.17 1121.15,1359.22 1126.55,1360.28 1131.95,1361.32 1137.34,1362.36 1142.74,1363.39 1148.13,1364.42 1153.53,1365.44 1158.92,1366.46 1164.32,1367.46 1169.72,1368.47 1175.11,1369.47 1180.51,1370.46 1185.90,1371.44 1191.30,1372.42 1196.69,1373.40 1202.09,1374.37 1207.48,1375.33 1212.88,1376.29 1218.28,1377.24 1223.67,1378.19 1229.07,1379.13 1234.46,1380.07 1239.86,1381.00 1245.25,1381.93 1250.65,1382.85 1256.05,1383.76 1261.44,1384.67 1266.84,1385.58 1272.23,1386.48 1277.63,1387.37 1283.02,1388.26 1288.42,1389.15 1293.81,1390.02 1299.21,1390.90 1304.61,1391.77 1310.00,1392.63 1315.40,1393.49 1320.79,1394.34 1326.19,1395.19 1331.58,1396.04 1336.98,1396.88 1342.38,1397.71 1347.77,1398.54 1353.17,1399.37 1358.56,1400.19 1363.96,1401.00 1369.35,1401.82 1374.75,1402.62 1380.14,1403.42 1385.54,1404.22 1390.94,1405.01 1396.33,1405.80 1401.73,1406.58 1407.12,1407.36 1412.52,1408.14 1417.91,1408.91 1423.31,1409.67 1428.70,1410.43 1434.10,1411.19 1439.50,1411.94 1444.89,1412.69 1450.29,1413.44 1455.68,1414.18 1461.08,1414.91 1466.47,1415.64 1471.87,1416.37 1477.27,1417.09 1482.66,1417.81 1488.06,1418.53 1493.45,1419.24 1498.85,1419.94 1504.24,1420.65 1509.64,1421.34 1515.03,1422.04 1520.43,1422.73 1525.83,1423.41 1531.22,1424.10 1536.62,1424.78 1542.01,1425.45 1547.41,1426.12 1552.80,1426.79 1558.20,1427.45 1563.60,1428.11 1568.99,1428.77 1574.39,1429.42 1579.78,1430.06 1585.18,1430.71 1590.57,1431.35 1595.97,1431.99 1601.37,1432.62 1606.76,1433.25 1612.16,1433.87 1617.55,1434.50 1622.95,1435.12 1628.34,1435.73 1633.74,1436.34 1639.13,1436.95 1644.53,1437.56 1649.93,1438.16 1655.32,1438.75 1660.72,1439.35 1666.11,1439.94 1671.51,1440.53 1676.90,1441.11 1682.30,1441.69 1687.70,1442.27 1693.09,1442.84 1698.49,1443.42 1703.88,1443.98 1709.28,1444.55 1714.67,1445.11 1720.07,1445.67 1725.46,1446.22 1730.86,1446.77 1736.26,1447.32 1741.65,1447.87 1747.05,1448.41 1752.44,1448.95 1757.84,1449.48 1763.23,1450.02 1768.63,1450.55 1774.03,1451.07 1779.42,1451.60 1784.82,1452.12 1790.21,1452.63 1795.61,1453.15 1801.00,1453.66 1806.40,1454.17 1811.79,1454.67 1817.19,1455.18 1822.59,1455.68 1827.98,1456.17 1833.38,1456.67 1838.77,1457.16 1844.17,1457.65 1849.56,1458.14 1854.96,1458.62 1860.35,1459.10 1865.75,1459.58 1871.15,1460.05 1876.54,1460.52 1881.94,1460.99 1887.33,1461.46 1892.73,1461.92 1898.12,1462.38 1903.52,1462.84 1908.92,1463.30 1914.31,1463.75 1919.71,1464.20 1925.10,1464.65 1930.50,1465.10 1935.89,1465.54 1941.29,1465.98 1946.68,1466.42 1952.08,1466.86 1957.48,1467.29 1962.87,1467.72 1968.27,1468.15 1973.66,1468.57 1979.06,1469.00 1984.45,1469.42 1989.85,1469.83 1995.25,1470.25 2000.64,1470.66 2006.04,1471.08 2011.43,1471.48 2016.83,1471.89 2022.22,1472.29 2027.62,1472.70 2033.02,1473.10 2038.41,1473.49 2043.81,1473.89 2049.20,1474.28 2054.60,1474.67 2059.99,1475.06 2065.39,1475.45 2070.78,1475.83 2076.18,1476.21 2081.58,1476.59 2086.97,1476.97 2092.37,1477.34 2097.76,1477.72 2103.16,1478.09 2108.55,1478.45 2113.95,1478.82 2119.35,1479.19 2124.74,1479.55 2130.14,1479.91 2135.53,1480.27 2140.93,1480.62 2146.32,1480.98 2151.72,1481.33 2157.11,1481.68 2162.51,1482.03 2167.91,1482.37 2173.30,1482.72 2178.70,1483.06 2184.09,1483.40 2189.49,1483.74 2194.88,1484.07 2200.28,1484.41 2205.68,1484.74 2211.07,1485.07 2216.47,1485.40 2221.86,1485.72 2227.26,1486.05 2232.65,1486.37 2238.05,1486.69 2243.44,1487.01 2248.84,1487.33 2254.24,1487.65 2259.63,1487.96 2265.03,1488.27 2270.42,1488.58 2275.82,1488.89 2281.21,1489.20 2286.61,1489.50 2292.00,1489.80 2297.40,1490.10 2302.80,1490.40 2308.19,1490.70 2313.59,1491.00 2318.98,1491.29 2324.38,1491.59 2329.77,1491.88 2335.17,1492.17 2340.57,1492.45 2345.96,1492.74 2351.36,1493.02 2356.75,1493.31 2362.15,1493.59 2367.54,1493.87 2372.94,1494.15 2378.33,1494.42 2383.73,1494.70 2389.13,1494.97 2394.52,1495.24 2399.92,1495.51 2405.31,1495.78 2410.71,1496.05 2416.10,1496.31 2421.50,1496.58" fill="none" stroke="#ff00ff" stroke-width="6.25" stroke-dasharray="25.15 6.29 12.58 6.29" stroke-linejoin="round"/>
<polygon points="263.25,1071.70 274.84,1091.77 251.66,1091.77" stroke="#ff00ff" stroke-width="6.25" fill="none" stroke-miterlimit="10"/>
<polygon points="371.16,1121.42 382.75,1141.49 359.58,1141.49" stroke="#ff00ff" stroke-width="6.25" fill="none" stroke-miterlimit="10"/>
<polygon points="479.07,1165.73 490.66,1185.80 467.49,1185.80" stroke="#ff00ff" stroke-width="6.25" fill="none" stroke-miterlimit="10"/>
<polygon points="586.99,1205.23 598.57,1225.30 575.40,1225.30" stroke="#ff00ff" stroke-width="6.25" fill="none" stroke-miterlimit="10"/>
<polygon points="694.90,1240.43 706.49,1260.50 683.31,1260.50" stroke="#ff00ff" stroke-width="6.25" fill="none" stroke-miterlimit="10"/>
<polygon points="802.81,1271.80 814.40,1291.87 791.23,1291.87" stroke="#ff00ff" stroke-width="6.25" fill="none" stroke-miterlimit="10"/>
<polygon points="910.73,1299.76 922.31,1319.83 899.14,1319.83" stroke="#ff00ff" stroke-width="6.25" fill="none" stroke-miterlimit="10"/>
<polygon points="1018.64,1324.69 1030.22,1344.76 1007.05,1344.76" stroke="#ff00ff" stroke-width="6.25" fill="none" stroke-miterlimit="10"/>
<polygon points="1126.55,1346.90 1138.14,1366.97 1114.96,1366.97" stroke="#ff00ff" stroke-width="6.25" fill="none" stroke-miterlimit="10"/>
<polygon points="1234.46,1366.69 1246.05,1386.76 1222.88,1386.76" stroke="#ff00ff" stroke-width="6.25" fill="none" stroke-miterlimit="10"/>
<polygon points="1342.38,1384.33 1353.96,1404.40 1330.79,1404.40" stroke="#ff00ff" stroke-width="6.25" fill="none" stroke-miterlimit="10"/>
<polygon points="1450.29,1400.06 1461.87,1420.13 1438.70,1420.13" stroke="#ff00ff" stroke-width="6.25" fill="none" stroke-miterlimit="10"/>
<polygon points="1558.20,1414.07 1569.79,1434.14 1546.61,1434.14" stroke="#ff00ff" stroke-width="6.25" fill="none" stroke-miterlimit="10"/>
<polygon points="1666.11,1426.56 1677.70,1446.63 1654.53,1446.63" stroke="#ff00ff" stroke-width="6.25" fill="none" stroke-miterlimit="10"/>
<polygon points="1774.03,1437.69 1785.61,1457.76 1762.44,1457.76" stroke="#ff00ff" stroke-width="6.25" fill="none" stroke-miterlimit="10"/>
<polygon points="1881.94,1447.61 1893.52,1467.68 1870.35,1467.68" stroke="#ff00ff" stroke-width="6.25" fill="none" stroke-miterlimit="10"/>
<polygon points="1989.85,1456.45 2001.44,1476.52 1978.26,1476.52" stroke="#ff00ff" stroke-width="6.25" fill="none" stroke-miterlimit="10"/>
<polygon points="2097.76,1464.34 2109.35,1484.41 2086.18,1484.41" stroke="#ff00ff" stroke-width="6.25" fill="none" stroke-miterlimit="10"/>
<polygon points="2205.68,1471.36 2217.26,1491.43 2194.09,1491.43" stroke="#ff00ff" stroke-width="6.25" fill="none" stroke-miterlimit="10"/>
<polygon points="2313.59,1477.62 2325.17,1497.69 2302.00,1497.69" stroke="#ff00ff" stroke-width="6.25" fill="none" stroke-miterlimit="10"/>
<polygon points="2421.50,1483.20 2433.09,1503.27 2409.91,1503.27" stroke="#ff00ff" stroke-width="6.25" fill="none" stroke-miterlimit="10"/>
<polyline points="263.25,1191.86 268.65,1193.87 274.04,1195.87 279.44,1197.86 284.83,1199.84 290.23,1201.80 295.62,1203.76 301.02,1205.70 306.42,1207.63 311.81,1209.55 317.21,1211.46 322.60,1213.36 328.00,1215.25 333.39,1217.13 338.79,1219.00 344.18,1220.85 349.58,1222.70 354.98,1224.53 360.37,1226.35 365.77,1228.17 371.16,1229.97 376.56,1231.76 381.95,1233.55 387.35,1235.32 392.75,1237.08 398.14,1238.83 403.54,1240.57 408.93,1242.31 414.33,1244.03 419.72,1245.74 425.12,1247.44 430.51,1249.13 435.91,1250.82 441.31,1252.49 446.70,1254.15 452.10,1255.81 457.49,1257.45 462.89,1259.09 468.28,1260.71 473.68,1262.33 479.07,1263.94 484.47,1265.53 489.87,1267.12 495.26,1268.70 500.66,1270.27 506.05,1271.83 511.45,1273.39 516.84,1274.93 522.24,1276.46 527.64,1277.99 533.03,1279.51 538.43,1281.02 543.82,1282.52 549.22,1284.01 554.61,1285.49 560.01,1286.96 565.40,1288.43 570.80,1289.89 576.20,1291.34 581.59,1292.78 586.99,1294.21 592.38,1295.63 597.78,1297.05 603.17,1298.46 608.57,1299.86 613.97,1301.25 619.36,1302.63 624.76,1304.01 630.15,1305.37 635.55,1306.73 640.94,1308.09 646.34,1309.43 651.73,1310.77 657.13,1312.10 662.53,1313.42 667.92,1314.73 673.32,1316.04 678.71,1317.34 684.11,1318.63 689.50,1319.91 694.90,1321.19 700.30,1322.46 705.69,1323.72 711.09,1324.97 716.48,1326.22 721.88,1327.46 727.27,1328.69 732.67,1329.92 738.07,1331.14 743.46,1332.35 748.86,1333.56 754.25,1334.75 759.65,1335.95 765.04,1337.13 770.44,1338.31 775.83,1339.48 781.23,1340.64 786.63,1341.80 792.02,1342.95 797.42,1344.10 802.81,1345.23 808.21,1346.36 813.60,1347.49 819.00,1348.61 824.40,1349.72 829.79,1350.82 835.19,1351.92 840.58,1353.02 845.98,1354.10 851.37,1355.18 856.77,1356.26 862.16,1357.33 867.56,1358.39 872.96,1359.44 878.35,1360.49 883.75,1361.54 889.14,1362.57 894.54,1363.60 899.93,1364.63 905.33,1365.65 910.73,1366.66 916.12,1367.67 921.52,1368.67 926.91,1369.67 932.31,1370.66 937.70,1371.65 943.10,1372.63 948.49,1373.60 953.89,1374.57 959.29,1375.53 964.68,1376.49 970.08,1377.44 975.47,1378.39 980.87,1379.33 986.26,1380.26 991.66,1381.19 997.05,1382.12 1002.45,1383.04 1007.85,1383.95 1013.24,1384.86 1018.64,1385.76 1024.03,1386.66 1029.43,1387.56 1034.82,1388.44 1040.22,1389.33 1045.62,1390.21 1051.01,1391.08 1056.41,1391.95 1061.80,1392.81 1067.20,1393.67 1072.59,1394.52 1077.99,1395.37 1083.38,1396.21 1088.78,1397.05 1094.18,1397.88 1099.57,1398.71 1104.97,1399.54 1110.36,1400.36 1115.76,1401.17 1121.15,1401.98 1126.55,1402.79 1131.95,1403.59 1137.34,1404.38 1142.74,1405.18 1148.13,1405.96 1153.53,1406.75 1158.92,1407.52 1164.32,1408.30 1169.72,1409.07 1175.11,1409.83 1180.51,1410.59 1185.90,1411.35 1191.30,1412.10 1196.69,1412.85 1202.09,1413.59 1207.48,1414.33 1212.88,1415.06 1218.28,1415.79 1223.67,1416.52 1229.07,1417.24 1234.46,1417.96 1239.86,1418.67 1245.25,1419.38 1250.65,1420.09 1256.05,1420.79 1261.44,1421.49 1266.84,1422.18 1272.23,1422.87 1277.63,1423.56 1283.02,1424.24 1288.42,1424.92 1293.81,1425.59 1299.21,1426.26 1304.61,1426.92 1310.00,1427.59 1315.40,1428.25 1320.79,1428.90 1326.19,1429.55 1331.58,1430.20 1336.98,1430.84 1342.38,1431.48 1347.77,1432.12 1353.17,1432.75 1358.56,1433.38 1363.96,1434.00 1369.35,1434.63 1374.75,1435.24 1380.14,1435.86 1385.54,1436.47 1390.94,1437.08 1396.33,1437.68 1401.73,1438.28 1407.12,1438.88 1412.52,1439.47 1417.91,1440.06 1423.31,1440.65 1428.70,1441.23 1434.10,1441.81 1439.50,1442.39 1444.89,1442.96 1450.29,1443.53 1455.68,1444.10 1461.08,1444.66 1466.47,1445.22 1471.87,1445.78 1477.27,1446.34 1482.66,1446.89 1488.06,1447.43 1493.45,1447.98 1498.85,1448.52 1504.24,1449.06 1509.64,1449.59 1515.03,1450.13 1520.43,1450.65 1525.83,1451.18 1531.22,1451.70 1536.62,1452.22 1542.01,1452.74 1547.41,1453.25 1552.80,1453.77 1558.20,1454.27 1563.60,1454.78 1568.99,1455.28 1574.39,1455.78 1579.78,1456.28 1585.18,1456.77 1590.57,1457.26 1595.97,1457.75 1601.37,1458.24 1606.76,1458.72 1612.16,1459.20 1617.55,1459.67 1622.95,1460.15 1628.34,1460.62 1633.74,1461.09 1639.13,1461.56 1644.53,1462.02 1649.93,1462.48 1655.32,1462.94 1660.72,1463.39 1666.11,1463.85 1671.51,1464.30 1676.90,1464.74 1682.30,1465.19 1687.70,1465.63 1693.09,1466.07 1698.49,1466.51 1703.88,1466.94 1709.28,1467.38 1714.67,1467.81 1720.07,1468.24 1725.46,1468.66 1730.86,1469.08 1736.26,1469.50 1741.65,1469.92 1747.05,1470.34 1752.44,1470.75 1757.84,1471.16 1763.23,1471.57 1768.63,1471.97 1774.03,1472.38 1779.42,1472.78 1784.82,1473.18 1790.21,1473.58 1795.61,1473.97 1801.00,1474.36 1806.40,1474.75 1811.79,1475.14 1817.19,1475.53 1822.59,1475.91 1827.98,1476.29 1833.38,1476.67 1838.77,1477.05 1844.17,1477.42 1849.56,1477.79 1854.96,1478.16 1860.35,1478.53 1865.75,1478.90 1871.15,1479.26 1876.54,1479.62 1881.94,1479.98 1887.33,1480.34 1892.73,1480.70 1898.12,1481.05 1903.52,1481.40 1908.92,1481.75 1914.31,1482.10 1919.71,1482.44 1925.10,1482.79 1930.50,1483.13 1935.89,1483.47 1941.29,1483.81 1946.68,1484.14 1952.08,1484.48 1957.48,1484.81 1962.87,1485.14 1968.27,1485.47 1973.66,1485.79 1979.06,1486.12 1984.45,1486.44 1989.85,1486.76 1995.25,1487.08 2000.64,1487.39 2006.04,1487.71 2011.43,1488.02 2016.83,1488.33 2022.22,1488.64 2027.62,1488.95 2033.02,1489.26 2038.41,1489.56 2043.81,1489.87 2049.20,1490.17 2054.60,1490.47 2059.99,1490.76 2065.39,1491.06 2070.78,1491.35 2076.18,1491.65 2081.58,1491.94 2086.97,1492.23 2092.37,1492.51 2097.76,1492.80 2103.16,1493.08 2108.55,1493.37 2113.95,1493.65 2119.35,1493.93 2124.74,1494.20 2130.14,1494.48 2135.53,1494.75 2140.93,1495.03 2146.32,1495.30 2151.72,1495.57 2157.11,1495.84 2162.51,1496.10 2167.91,1496.37 2173.30,1496.63 2178.70,1496.89 2184.09,1497.15 2189.49,1497.41 2194.88,1497.67 2200.28,1497.93 2205.68,1498.18 2211.07,1498.44 2216.47,1498.69 2221.86,1498.94 2227.26,1499.19 2232.65,1499.43 2238.05,1499.68 2243.44,1499.92 2248.84,1500.17 2254.24,1500.41 2259.63,1500.65 2265.03,1500.89 2270.42,1501.13 2275.82,1501.36 2281.21,1501.60 2286.61,1501.83 2292.00,1502.06 2297.40,1502.30 2302.80,1502.52 2308.19,1502.75 2313.59,1502.98 2318.98,1503.21 2324.38,1503.43 2329.77,1503.65 2335.17,1503.88 2340.57,1504.10 2345.96,1504.31 2351.36,1504.53 2356.75,1504.75 2362.15,1504.97 2367.54,1505.18 2372.94,1505.39 2378.33,1505.60 2383.73,1505.82 2389.13,1506.02 2394.52,1506.23 2399.92,1506.44 2405.31,1506.65 2410.71,1506.85 2416.10,1507.05 2421.50,1507.26" fill="none" stroke="#00ffff" stroke-width="6.25" stroke-dasharray="25.15 6.29 12.58 6.29" stroke-linejoin="round"/>
<polygon points="263.25,1205.24 274.84,1185.17 251.66,1185.17" stroke="#00ffff" stroke-width="6.25" fill="none" stroke-miterlimit="10"/>
<polygon points="371.16,1243.35 382.75,1223.28 359.58,1223.28" stroke="#00ffff" stroke-width="6.25" fill="none" stroke-miterlimit="10"/>
<polygon points="479.07,1277.32 490.66,1257.25 467.49,1257.25" stroke="#00ffff" stroke-width="6.25" fill="none" stroke-miterlimit="10"/>
<polygon points="586.99,1307.59 598.57,1287.52 575.40,1287.52" stroke="#00ffff" stroke-width="6.25" fill="none" stroke-miterlimit="10"/>
<polygon points="694.90,1334.57 706.49,1314.50 683.31,1314.50" stroke="#00ffff" stroke-width="6.25" fill="none" stroke-miterlimit="10"/>
<polygon points="802.81,1358.61 814.40,1338.54 791.23,1338.54" stroke="#00ffff" stroke-width="6.25" fill="none" stroke-miterlimit="10"/>
<polygon points="910.73,1380.04 922.31,1359.97 899.14,1359.97" stroke="#00ffff" stroke-width="6.25" fill="none" stroke-miterlimit="10"/>
<polygon points="1018.64,1399.14 1030.22,1379.07 1007.05,1379.07" stroke="#00ffff" stroke-width="6.25" fill="none" stroke-miterlimit="10"/>
<polygon points="1126.55,1416.17 1138.14,1396.10 1114.96,1396.10" stroke="#00ffff" stroke-width="6.25" fill="none" stroke-miterlimit="10"/>
<polygon points="1234.46,1431.34 1246.05,1411.27 1222.88,1411.27" stroke="#00ffff" stroke-width="6.25" fill="none" stroke-miterlimit="10"/>
<polygon points="1342.38,1444.86 1353.96,1424.79 1330.79,1424.79" stroke="#00ffff" stroke-width="6.25" fill="none" stroke-miterlimit="10"/>
<polygon points="1450.29,1456.91 1461.87,1436.84 1438.70,1436.84" stroke="#00ffff" stroke-width="6.25" fill="none" stroke-miterlimit="10"/>
<polygon points="1558.20,1467.65 1569.79,1447.58 1546.61,1447.58" stroke="#00ffff" stroke-width="6.25" fill="none" stroke-miterlimit="10"/>
<polygon points="1666.11,1477.23 1677.70,1457.16 1654.53,1457.16" stroke="#00ffff" stroke-width="6.25" fill="none" stroke-miterlimit="10"/>
<polygon points="1774.03,1485.76 1785.61,1465.69 1762.44,1465.69" stroke="#00ffff" stroke-width="6.25" fill="none" stroke-miterlimit="10"/>
<polygon points="1881.94,1493.36 1893.52,1473.29 1870.35,1473.29" stroke="#00ffff" stroke-width="6.25" fill="none" stroke-miterlimit="10"/>
<polygon points="1989.85,1500.14 2001.44,1480.07 1978.26,1480.07" stroke="#00ffff" stroke-width="6.25" fill="none" stroke-miterlimit="10"/>
<polygon points="2097.76,1506.18 2109.35,1486.11 2086.18,1486.11" stroke="#00ffff" stroke-width="6.25" fill="none" stroke-miterlimit="10"/>
<polygon points="2205.68,1511.56 2217.26,1491.49 2194.09,1491.49" stroke="#00ffff" stroke-width="6.25" fill="none" stroke-miterlimit="10"/>
<polygon points="2313.59,1516.36 2325.17,1496.29 2302.00,1496.29" stroke="#00ffff" stroke-width="6.25" fill="none" stroke-miterlimit="10"/>
<polygon points="2421.50,1520.64 2433.09,1500.57 2409.91,1500.57" stroke="#00ffff" stroke-width="6.25" fill="none" stroke-miterlimit="10"/>
<polyline points="263.25,1198.50 268.65,1200.48 274.04,1202.44 279.44,1204.39 284.83,1206.33 290.23,1208.26 295.62,1210.17 301.02,1212.08 306.42,1213.98 311.81,1215.86 317.21,1217.73 322.60,1219.60 328.00,1221.45 333.39,1223.29 338.79,1225.12 344.18,1226.94 349.58,1228.75 354.98,1230.55 360.37,1232.34 365.77,1234.12 371.16,1235.89 376.56,1237.65 381.95,1239.40 387.35,1241.14 392.75,1242.87 398.14,1244.58 403.54,1246.29 408.93,1247.99 414.33,1249.68 419.72,1251.36 425.12,1253.03 430.51,1254.69 435.91,1256.34 441.31,1257.98 446.70,1259.62 452.10,1261.24 457.49,1262.85 462.89,1264.46 468.28,1266.05 473.68,1267.64 479.07,1269.21 484.47,1270.78 489.87,1272.34 495.26,1273.89 500.66,1275.43 506.05,1276.96 511.45,1278.48 516.84,1280.00 522.24,1281.50 527.64,1283.00 533.03,1284.49 538.43,1285.97 543.82,1287.44 549.22,1288.90 554.61,1290.36 560.01,1291.80 565.40,1293.24 570.80,1294.67 576.20,1296.09 581.59,1297.51 586.99,1298.91 592.38,1300.31 597.78,1301.70 603.17,1303.08 608.57,1304.45 613.97,1305.82 619.36,1307.17 624.76,1308.52 630.15,1309.86 635.55,1311.20 640.94,1312.53 646.34,1313.84 651.73,1315.16 657.13,1316.46 662.53,1317.76 667.92,1319.04 673.32,1320.33 678.71,1321.60 684.11,1322.87 689.50,1324.13 694.90,1325.38 700.30,1326.62 705.69,1327.86 711.09,1329.09 716.48,1330.32 721.88,1331.53 727.27,1332.74 732.67,1333.95 738.07,1335.14 743.46,1336.33 748.86,1337.51 754.25,1338.69 759.65,1339.86 765.04,1341.02 770.44,1342.17 775.83,1343.32 781.23,1344.47 786.63,1345.60 792.02,1346.73 797.42,1347.85 802.81,1348.97 808.21,1350.08 813.60,1351.18 819.00,1352.28 824.40,1353.37 829.79,1354.45 835.19,1355.53 840.58,1356.60 845.98,1357.67 851.37,1358.73 856.77,1359.78 862.16,1360.83 867.56,1361.87 872.96,1362.91 878.35,1363.94 883.75,1364.96 889.14,1365.98 894.54,1366.99 899.93,1368.00 905.33,1369.00 910.73,1369.99 916.12,1370.98 921.52,1371.97 926.91,1372.94 932.31,1373.92 937.70,1374.88 943.10,1375.84 948.49,1376.80 953.89,1377.75 959.29,1378.69 964.68,1379.63 970.08,1380.57 975.47,1381.49 980.87,1382.42 986.26,1383.33 991.66,1384.25 997.05,1385.15 1002.45,1386.06 1007.85,1386.95 1013.24,1387.84 1018.64,1388.73 1024.03,1389.61 1029.43,1390.49 1034.82,1391.36 1040.22,1392.23 1045.62,1393.09 1051.01,1393.95 1056.41,1394.80 1061.80,1395.64 1067.20,1396.49 1072.59,1397.32 1077.99,1398.15 1083.38,1398.98 1088.78,1399.80 1094.18,1400.62 1099.57,1401.44 1104.97,1402.24 1110.36,1403.05 1115.76,1403.85 1121.15,1404.64 1126.55,1405.43 1131.95,1406.22 1137.34,1407.00 1142.74,1407.78 1148.13,1408.55 1153.53,1409.32 1158.92,1410.08 1164.32,1410.84 1169.72,1411.59 1175.11,1412.34 1180.51,1413.09 1185.90,1413.83 1191.30,1414.57 1196.69,1415.30 1202.09,1416.03 1207.48,1416.75 1212.88,1417.47 1218.28,1418.19 1223.67,1418.90 1229.07,1419.61 1234.46,1420.32 1239.86,1421.02 1245.25,1421.71 1250.65,1422.40 1256.05,1423.09 1261.44,1423.78 1266.84,1424.46 1272.23,1425.13 1277.63,1425.81 1283.02,1426.48 1288.42,1427.14 1293.81,1427.80 1299.21,1428.46 1304.61,1429.11 1310.00,1429.76 1315.40,1430.41 1320.79,1431.05 1326.19,1431.69 1331.58,1432.32 1336.98,1432.95 1342.38,1433.58 1347.77,1434.21 1353.17,1434.83 1358.56,1435.44 1363.96,1436.06 1369.35,1436.67 1374.75,1437.27 1380.14,1437.88 1385.54,1438.47 1390.94,1439.07 1396.33,1439.66 1401.73,1440.25 1407.12,1440.84 1412.52,1441.42 1417.91,1442.00 1423.31,1442.58 1428.70,1443.15 1434.10,1443.72 1439.50,1444.28 1444.89,1444.85 1450.29,1445.40 1455.68,1445.96 1461.08,1446.51 1466.47,1447.06 1471.87,1447.61 1477.27,1448.15 1482.66,1448.69 1488.06,1449.23 1493.45,1449.77 1498.85,1450.30 1504.24,1450.83 1509.64,1451.35 1515.03,1451.87 1520.43,1452.39 1525.83,1452.91 1531.22,1453.42 1536.62,1453.93 1542.01,1454.44 1547.41,1454.94 1552.80,1455.44 1558.20,1455.94 1563.60,1456.44 1568.99,1456.93 1574.39,1457.42 1579.78,1457.91 1585.18,1458.39 1590.57,1458.87 1595.97,1459.35 1601.37,1459.83 1606.76,1460.30 1612.16,1460.77 1617.55,1461.24 1622.95,1461.71 1628.34,1462.17 1633.74,1462.63 1639.13,1463.09 1644.53,1463.54 1649.93,1463.99 1655.32,1464.44 1660.72,1464.89 1666.11,1465.33 1671.51,1465.78 1676.90,1466.21 1682.30,1466.65 1687.70,1467.09 1693.09,1467.52 1698.49,1467.95 1703.88,1468.37 1709.28,1468.80 1714.67,1469.22 1720.07,1469.64 1725.46,1470.06 1730.86,1470.47 1736.26,1470.88 1741.65,1471.29 1747.05,1471.70 1752.44,1472.11 1757.84,1472.51 1763.23,1472.91 1768.63,1473.31 1774.03,1473.70 1779.42,1474.10 1784.82,1474.49 1790.21,1474.88 1795.61,1475.26 1801.00,1475.65 1806.40,1476.03 1811.79,1476.41 1817.19,1476.79 1822.59,1477.17 1827.98,1477.54 1833.38,1477.91 1838.77,1478.28 1844.17,1478.65 1849.56,1479.01 1854.96,1479.38 1860.35,1479.74 1865.75,1480.10 1871.15,1480.46 1876.54,1480.81 1881.94,1481.16 1887.33,1481.51 1892.73,1481.86 1898.12,1482.21 1903.52,1482.55 1908.92,1482.90 1914.31,1483.24 1919.71,1483.58 1925.10,1483.91 1930.50,1484.25 1935.89,1484.58 1941.29,1484.91 1946.68,1485.24 1952.08,1485.57 1957.48,1485.90 1962.87,1486.22 1968.27,1486.54 1973.66,1486.86 1979.06,1487.18 1984.45,1487.50 1989.85,1487.81 1995.25,1488.12 2000.64,1488.44 2006.04,1488.74 2011.43,1489.05 2016.83,1489.36 2022.22,1489.66 2027.62,1489.96 2033.02,1490.26 2038.41,1490.56 2043.81,1490.86 2049.20,1491.16 2054.60,1491.45 2059.99,1491.74 2065.39,1492.03 2070.78,1492.32 2076.18,1492.61 2081.58,1492.89 2086.97,1493.18 2092.37,1493.46 2097.76,1493.74 2103.16,1494.02 2108.55,1494.29 2113.95,1494.57 2119.35,1494.84 2124.74,1495.12 2130.14,1495.39 2135.53,1495.66 2140.93,1495.92 2146.32,1496.19 2151.72,1496.45 2157.11,1496.72 2162.51,1496.98 2167.91,1497.24 2173.30,1497.50 2178.70,1497.75 2184.09,1498.01 2189.49,1498.26 2194.88,1498.52 2200.28,1498.77 2205.68,1499.02 2211.07,1499.27 2216.47,1499.51 2221.86,1499.76 2227.26,1500.00 2232.65,1500.25 2238.05,1500.49 2243.44,1500.73 2248.84,1500.97 2254.24,1501.20 2259.63,1501.44 2265.03,1501.67 2270.42,1501.91 2275.82,1502.14 2281.21,1502.37 2286.61,1502.60 2292.00,1502.83 2297.40,1503.05 2302.80,1503.28 2308.19,1503.50 2313.59,1503.73 2318.98,1503.95 2324.38,1504.17 2329.77,1504.39 2335.17,1504.60 2340.57,1504.82 2345.96,1505.03 2351.36,1505.25 2356.75,1505.46 2362.15,1505.67 2367.54,1505.88 2372.94,1506.09 2378.33,1506.30 2383.73,1506.51 2389.13,1506.71 2394.52,1506.92 2399.92,1507.12 2405.31,1507.32 2410.71,1507.52 2416.10,1507.72 2421.50,1507.92" fill="none" stroke="#000000" stroke-width="6.25" stroke-dasharray="25.15 6.29 12.58 6.29" stroke-linejoin="round"/>
<circle cx="263.25" cy="1198.50" r="10" fill="#000000"/>
<circle cx="371.16" cy="1235.89" r="10" fill="#000000"/>
<circle cx="479.07" cy="1269.21" r="10" fill="#000000"/>
<circle cx="586.99" cy="1298.91" r="10" fill="#000000"/>
<circle cx="694.90" cy="1325.38" r="10" fill="#000000"/>
<circle cx="802.81" cy="1348.97" r="10" fill="#000000"/>
<circle cx="910.73" cy="1369.99" r="10" fill="#000000"/>
<circle cx="1018.64" cy="1388.73" r="10" fill="#000000"/>
<circle cx="1126.55" cy="1405.43" r="10" fill="#000000"/>
<circle cx="1234.46" cy="1420.32" r="10" fill="#000000"/>
<circle cx="1342.38" cy="1433.58" r="10" fill="#000000"/>
<circle cx="1450.29" cy="1445.40" r="10" fill="#000000"/>
<circle cx="1558.20" cy="1455.94" r="10" fill="#000000"/>
<circle cx="1666.11" cy="1465.33" r="10" fill="#000000"/>
<circle cx="1774.03" cy="1473.70" r="10" fill="#000000"/>
<circle cx="1881.94" cy="1481.16" r="10" fill="#000000"/>
<circle cx="1989.85" cy="1487.81" r="10" fill="#000000"/>
<circle cx="2097.76" cy="1493.74" r="10" fill="#000000"/>
<circle cx="2205.68" cy="1499.02" r="10" fill="#000000"/>
<circle cx="2313.59" cy="1503.73" r="10" fill="#000000"/>
<circle cx="2421.50" cy="1507.92" r="10" fill="#000000"/>
<polyline points="263.25,1200.82 268.65,1202.78 274.04,1204.73 279.44,1206.66 284.83,1208.59 290.23,1210.51 295.62,1212.41 301.02,1214.30 306.42,1216.19 311.81,1218.06 317.21,1219.92 322.60,1221.77 328.00,1223.61 333.39,1225.44 338.79,1227.26 344.18,1229.07 349.58,1230.86 354.98,1232.65 360.37,1234.43 365.77,1236.20 371.16,1237.95 376.56,1239.70 381.95,1241.44 387.35,1243.16 392.75,1244.88 398.14,1246.59 403.54,1248.29 408.93,1249.97 414.33,1251.65 419.72,1253.32 425.12,1254.98 430.51,1256.63 435.91,1258.27 441.31,1259.90 446.70,1261.52 452.10,1263.13 457.49,1264.73 462.89,1266.33 468.28,1267.91 473.68,1269.48 479.07,1271.05 484.47,1272.61 489.87,1274.16 495.26,1275.69 500.66,1277.22 506.05,1278.75 511.45,1280.26 516.84,1281.76 522.24,1283.26 527.64,1284.75 533.03,1286.22 538.43,1287.69 543.82,1289.16 549.22,1290.61 554.61,1292.05 560.01,1293.49 565.40,1294.92 570.80,1296.34 576.20,1297.75 581.59,1299.15 586.99,1300.55 592.38,1301.94 597.78,1303.32 603.17,1304.69 608.57,1306.05 613.97,1307.41 619.36,1308.76 624.76,1310.10 630.15,1311.43 635.55,1312.75 640.94,1314.07 646.34,1315.38 651.73,1316.68 657.13,1317.98 662.53,1319.27 667.92,1320.55 673.32,1321.82 678.71,1323.09 684.11,1324.34 689.50,1325.59 694.90,1326.84 700.30,1328.08 705.69,1329.31 711.09,1330.53 716.48,1331.74 721.88,1332.95 727.27,1334.15 732.67,1335.35 738.07,1336.54 743.46,1337.72 748.86,1338.89 754.25,1340.06 759.65,1341.22 765.04,1342.37 770.44,1343.52 775.83,1344.66 781.23,1345.80 786.63,1346.92 792.02,1348.05 797.42,1349.16 802.81,1350.27 808.21,1351.37 813.60,1352.47 819.00,1353.56 824.40,1354.64 829.79,1355.72 835.19,1356.79 840.58,1357.85 845.98,1358.91 851.37,1359.97 856.77,1361.01 862.16,1362.05 867.56,1363.09 872.96,1364.12 878.35,1365.14 883.75,1366.16 889.14,1367.17 894.54,1368.17 899.93,1369.17 905.33,1370.17 910.73,1371.15 916.12,1372.14 921.52,1373.11 926.91,1374.08 932.31,1375.05 937.70,1376.01 943.10,1376.96 948.49,1377.91 953.89,1378.86 959.29,1379.79 964.68,1380.73 970.08,1381.65 975.47,1382.58 980.87,1383.49 986.26,1384.40 991.66,1385.31 997.05,1386.21 1002.45,1387.11 1007.85,1388.00 1013.24,1388.88 1018.64,1389.77 1024.03,1390.64 1029.43,1391.51 1034.82,1392.38 1040.22,1393.24 1045.62,1394.09 1051.01,1394.94 1056.41,1395.79 1061.80,1396.63 1067.20,1397.47 1072.59,1398.30 1077.99,1399.12 1083.38,1399.95 1088.78,1400.76 1094.18,1401.58 1099.57,1402.38 1104.97,1403.19 1110.36,1403.99 1115.76,1404.78 1121.15,1405.57 1126.55,1406.35 1131.95,1407.13 1137.34,1407.91 1142.74,1408.68 1148.13,1409.45 1153.53,1410.21 1158.92,1410.97 1164.32,1411.72 1169.72,1412.47 1175.11,1413.22 1180.51,1413.96 1185.90,1414.69 1191.30,1415.43 1196.69,1416.16 1202.09,1416.88 1207.48,1417.60 1212.88,1418.32 1218.28,1419.03 1223.67,1419.73 1229.07,1420.44 1234.46,1421.14 1239.86,1421.83 1245.25,1422.52 1250.65,1423.21 1256.05,1423.90 1261.44,1424.57 1266.84,1425.25 1272.23,1425.92 1277.63,1426.59 1283.02,1427.25 1288.42,1427.91 1293.81,1428.57 1299.21,1429.22 1304.61,1429.87 1310.00,1430.52 1315.40,1431.16 1320.79,1431.80 1326.19,1432.43 1331.58,1433.06 1336.98,1433.69 1342.38,1434.31 1347.77,1434.93 1353.17,1435.55 1358.56,1436.16 1363.96,1436.77 1369.35,1437.38 1374.75,1437.98 1380.14,1438.58 1385.54,1439.17 1390.94,1439.77 1396.33,1440.35 1401.73,1440.94 1407.12,1441.52 1412.52,1442.10 1417.91,1442.67 1423.31,1443.25 1428.70,1443.82 1434.10,1444.38 1439.50,1444.94 1444.89,1445.50 1450.29,1446.06 1455.68,1446.61 1461.08,1447.16 1466.47,1447.70 1471.87,1448.25 1477.27,1448.79 1482.66,1449.32 1488.06,1449.86 1493.45,1450.39 1498.85,1450.92 1504.24,1451.44 1509.64,1451.96 1515.03,1452.48 1520.43,1453.00 1525.83,1453.51 1531.22,1454.02 1536.62,1454.53 1542.01,1455.03 1547.41,1455.53 1552.80,1456.03 1558.20,1456.52 1563.60,1457.02 1568.99,1457.51 1574.39,1457.99 1579.78,1458.48 1585.18,1458.96 1590.57,1459.44 1595.97,1459.91 1601.37,1460.38 1606.76,1460.85 1612.16,1461.32 1617.55,1461.79 1622.95,1462.25 1628.34,1462.71 1633.74,1463.16 1639.13,1463.62 1644.53,1464.07 1649.93,1464.52 1655.32,1464.97 1660.72,1465.41 1666.11,1465.85 1671.51,1466.29 1676.90,1466.73 1682.30,1467.16 1687.70,1467.59 1693.09,1468.02 1698.49,1468.45 1703.88,1468.87 1709.28,1469.29 1714.67,1469.71 1720.07,1470.13 1725.46,1470.54 1730.86,1470.95 1736.26,1471.36 1741.65,1471.77 1747.05,1472.18 1752.44,1472.58 1757.84,1472.98 1763.23,1473.38 1768.63,1473.77 1774.03,1474.17 1779.42,1474.56 1784.82,1474.95 1790.21,1475.33 1795.61,1475.72 1801.00,1476.10 1806.40,1476.48 1811.79,1476.86 1817.19,1477.23 1822.59,1477.61 1827.98,1477.98 1833.38,1478.35 1838.77,1478.71 1844.17,1479.08 1849.56,1479.44 1854.96,1479.80 1860.35,1480.16 1865.75,1480.52 1871.15,1480.87 1876.54,1481.22 1881.94,1481.57 1887.33,1481.92 1892.73,1482.27 1898.12,1482.61 1903.52,1482.96 1908.92,1483.30 1914.31,1483.64 1919.71,1483.97 1925.10,1484.31 1930.50,1484.64 1935.89,1484.97 1941.29,1485.30 1946.68,1485.63 1952.08,1485.95 1957.48,1486.28 1962.87,1486.60 1968.27,1486.92 1973.66,1487.24 1979.06,1487.55 1984.45,1487.87 1989.85,1488.18 1995.25,1488.49 2000.64,1488.80 2006.04,1489.11 2011.43,1489.41 2016.83,1489.71 2022.22,1490.02 2027.62,1490.32 2033.02,1490.61 2038.41,1490.91 2043.81,1491.21 2049.20,1491.50 2054.60,1491.79 2059.99,1492.08 2065.39,1492.37 2070.78,1492.66 2076.18,1492.94 2081.58,1493.22 2086.97,1493.51 2092.37,1493.79 2097.76,1494.06 2103.16,1494.34 2108.55,1494.62 2113.95,1494.89 2119.35,1495.16 2124.74,1495.43 2130.14,1495.70 2135.53,1495.97 2140.93,1496.24 2146.32,1496.50 2151.72,1496.76 2157.11,1497.02 2162.51,1497.28 2167.91,1497.54 2173.30,1497.80 2178.70,1498.05 2184.09,1498.31 2189.49,1498.56 2194.88,1498.81 2200.28,1499.06 2205.68,1499.31 2211.07,1499.56 2216.47,1499.80 2221.86,1500.05 2227.26,1500.29 2232.65,1500.53 2238.05,1500.77 2243.44,1501.01 2248.84,1501.24 2254.24,1501.48 2259.63,1501.71 2265.03,1501.95 2270.42,1502.18 2275.82,1502.41 2281.21,1502.64 2286.61,1502.87 2292.00,1503.09 2297.40,1503.32 2302.80,1503.54 2308.19,1503.76 2313.59,1503.98 2318.98,1504.20 2324.38,1504.42 2329.77,1504.64 2335.17,1504.86 2340.57,1505.07 2345.96,1505.29 2351.36,1505.50 2356.75,1505.71 2362.15,1505.92 2367.54,1506.13 2372.94,1506.34 2378.33,1506.54 2383.73,1506.75 2389.13,1506.95 2394.52,1507.15 2399.92,1507.36 2405.31,1507.56 2410.71,1507.76 2416.10,1507.95 2421.50,1508.15" fill="none" stroke="#0000ff" stroke-width="6.25" stroke-dasharray="25.15 6.29 12.58 6.29" stroke-linejoin="round"/>
<polygon points="263.25,1187.44 274.84,1207.51 251.66,1207.51" stroke="#0000ff" stroke-width="6.25" fill="none" stroke-miterlimit="10"/>
<polygon points="371.16,1224.57 382.75,1244.64 359.58,1244.64" stroke="#0000ff" stroke-width="6.25" fill="none" stroke-miterlimit="10"/>
<polygon points="479.07,1257.67 490.66,1277.74 467.49,1277.74" stroke="#0000ff" stroke-width="6.25" fill="none" stroke-miterlimit="10"/>
<polygon points="586.99,1287.17 598.57,1307.24 575.40,1307.24" stroke="#0000ff" stroke-width="6.25" fill="none" stroke-miterlimit="10"/>
<polygon points="694.90,1313.46 706.49,1333.53 683.31,1333.53" stroke="#0000ff" stroke-width="6.25" fill="none" stroke-miterlimit="10"/>
<polygon points="802.81,1336.89 814.40,1356.96 791.23,1356.96" stroke="#0000ff" stroke-width="6.25" fill="none" stroke-miterlimit="10"/>
<polygon points="910.73,1357.77 922.31,1377.84 899.14,1377.84" stroke="#0000ff" stroke-width="6.25" fill="none" stroke-miterlimit="10"/>
<polygon points="1018.64,1376.39 1030.22,1396.46 1007.05,1396.46" stroke="#0000ff" stroke-width="6.25" fill="none" stroke-miterlimit="10"/>
<polygon points="1126.55,1392.97 1138.14,1413.04 1114.96,1413.04" stroke="#0000ff" stroke-width="6.25" fill="none" stroke-miterlimit="10"/>
<polygon points="1234.46,1407.76 1246.05,1427.83 1222.88,1427.83" stroke="#0000ff" stroke-width="6.25" fill="none" stroke-miterlimit="10"/>
<polygon points="1342.38,1420.93 1353.96,1441.00 1330.79,1441.00" stroke="#0000ff" stroke-width="6.25" fill="none" stroke-miterlimit="10"/>
<polygon points="1450.29,1432.68 1461.87,1452.75 1438.70,1452.75" stroke="#0000ff" stroke-width="6.25" fill="none" stroke-miterlimit="10"/>
<polygon points="1558.20,1443.14 1569.79,1463.21 1546.61,1463.21" stroke="#0000ff" stroke-width="6.25" fill="none" stroke-miterlimit="10"/>
<polygon points="1666.11,1452.47 1677.70,1472.54 1654.53,1472.54" stroke="#0000ff" stroke-width="6.25" fill="none" stroke-miterlimit="10"/>
<polygon points="1774.03,1460.79 1785.61,1480.86 1762.44,1480.86" stroke="#0000ff" stroke-width="6.25" fill="none" stroke-miterlimit="10"/>
<polygon points="1881.94,1468.19 1893.52,1488.26 1870.35,1488.26" stroke="#0000ff" stroke-width="6.25" fill="none" stroke-miterlimit="10"/>
<polygon points="1989.85,1474.80 2001.44,1494.87 1978.26,1494.87" stroke="#0000ff" stroke-width="6.25" fill="none" stroke-miterlimit="10"/>
<polygon points="2097.76,1480.68 2109.35,1500.75 2086.18,1500.75" stroke="#0000ff" stroke-width="6.25" fill="none" stroke-miterlimit="10"/>
<polygon points="2205.68,1485.93 2217.26,1506.00 2194.09,1506.00" stroke="#0000ff" stroke-width="6.25" fill="none" stroke-miterlimit="10"/>
<polygon points="2313.59,1490.60 2325.17,1510.67 2302.00,1510.67" stroke="#0000ff" stroke-width="6.25" fill="none" stroke-miterlimit="10"/>
<polygon points="2421.50,1494.77 2433.09,1514.84 2409.91,1514.84" stroke="#0000ff" stroke-width="6.25" fill="none" stroke-miterlimit="10"/>
<rect x="1298.6" y="1357" width="85.9" height="108.2" fill="none" stroke="#000" stroke-width="2.8"/>
<line x1="1335.2" y1="1334.3" x2="1317.98" y2="977.34" stroke="#000" stroke-width="3.8"/>
<polygon points="1315.6,928.1 1343.80,993.82 1317.88,975.35 1293.86,996.23" fill="#000" stroke="#000" stroke-width="1.5" stroke-linejoin="round"/>
<rect x="1162.4" y="548.2" width="305.70" height="288.30" fill="#fff" stroke="#262626" stroke-width="6.25"/>
<g stroke="#262626" stroke-width="6.25" fill="none">
<path d="M1184.4,836.5V830.0M1184.4,548.2V554.7M1306.5,836.5V830.0M1306.5,548.2V554.7M1428.6,836.5V830.0M1428.6,548.2V554.7M1162.4,578.6H1168.9M1468.1,578.6H1461.6M1162.4,690.2H1168.9M1468.1,690.2H1461.6M1162.4,801.8H1168.9M1468.1,801.8H1461.6"/>
</g>
<g style='font-family:"Liberation Serif",serif' font-size="69" fill="#262626">
<text x="1134.7" y="602.9" text-anchor="end">35</text>
<text x="1134.7" y="714.5" text-anchor="end">30</text>
<text x="1134.7" y="826.1" text-anchor="end">25</text>
<text x="1306.5" y="926.1" text-anchor="middle">-80</text>
</g>
<clipPath id="ic"><rect x="1162.4" y="548.2" width="305.70" height="288.30"/></clipPath>
<polyline points="1162.4,-865.30 1306.5,-859.30 1468.1,-853.30" fill="none" stroke="#ff0000" stroke-width="6.25" stroke-dasharray="25.15 6.29 12.58 6.29" clip-path="url(#ic)"/>
<circle cx="1306.50" cy="-859.30" r="9.8" stroke="#ff0000" stroke-width="6.25" fill="none"/>
<polyline points="1162.4,-263.73 1306.5,-259.35 1468.1,-254.97" fill="none" stroke="#0000ff" stroke-width="6.25" stroke-dasharray="25.15 6.29 12.58 6.29" clip-path="url(#ic)"/>
<polygon points="1306.50,-272.35 1315.80,-259.35 1306.50,-246.35 1297.20,-259.35" stroke="#0000ff" stroke-width="6.25" fill="none" stroke-miterlimit="10"/>
<polyline points="1162.4,591.35 1306.5,593.42 1468.1,595.49" fill="none" stroke="#000000" stroke-width="6.25" stroke-dasharray="25.15 6.29 12.58 6.29" clip-path="url(#ic)"/>
<rect x="1298.50" y="585.42" width="16.0" height="16.0" stroke="#000000" stroke-width="6.25" fill="none"/>
<polyline points="1162.4,604.65 1306.5,606.69 1468.1,608.73" fill="none" stroke="#ff00ff" stroke-width="6.25" stroke-dasharray="25.15 6.29 12.58 6.29" clip-path="url(#ic)"/>
<polygon points="1306.50,593.31 1318.09,613.38 1294.91,613.38" stroke="#ff00ff" stroke-width="6.25" fill="none" stroke-miterlimit="10"/>
<polyline points="1162.4,781.02 1306.5,782.58 1468.1,784.14" fill="none" stroke="#00ffff" stroke-width="6.25" stroke-dasharray="25.15 6.29 12.58 6.29" clip-path="url(#ic)"/>
<polygon points="1306.50,795.96 1318.09,775.89 1294.91,775.89" stroke="#00ffff" stroke-width="6.25" fill="none" stroke-miterlimit="10"/>
<polyline points="1162.4,791.99 1306.5,793.52 1468.1,795.05" fill="none" stroke="#000000" stroke-width="6.25" stroke-dasharray="25.15 6.29 12.58 6.29" clip-path="url(#ic)"/>
<circle cx="1306.50" cy="793.52" r="10" fill="#000000"/>
<polyline points="1162.4,795.81 1306.5,797.33 1468.1,798.85" fill="none" stroke="#0000ff" stroke-width="6.25" stroke-dasharray="25.15 6.29 12.58 6.29" clip-path="url(#ic)"/>
<polygon points="1306.50,783.95 1318.09,804.02 1294.91,804.02" stroke="#0000ff" stroke-width="6.25" fill="none" stroke-miterlimit="10"/>
<rect x="1595.5" y="93" width="772.5" height="583.7" fill="#fff" stroke="#262626" stroke-width="6.25"/>
<line x1="1615" y1="142.5" x2="1681" y2="142.5" stroke="#ff0000" stroke-width="6.25" stroke-dasharray="25.15 6.29 12.58 6.29"/>
<circle cx="1648.00" cy="142.50" r="9.8" stroke="#ff0000" stroke-width="6.25" fill="none"/>
<text x="1696.3" y="167.7" style='font-family:"Liberation Serif",serif' font-size="69" fill="#000">SIN</text>
<line x1="1615" y1="223.5" x2="1681" y2="223.5" stroke="#0000ff" stroke-width="6.25" stroke-dasharray="25.15 6.29 12.58 6.29"/>
<polygon points="1648.00,210.50 1657.30,223.50 1648.00,236.50 1638.70,223.50" stroke="#0000ff" stroke-width="6.25" fill="none" stroke-miterlimit="10"/>
<text x="1696.3" y="248.7" style='font-family:"Liberation Serif",serif' font-size="69" fill="#000">LFM</text>
<line x1="1615" y1="304.5" x2="1681" y2="304.5" stroke="#000000" stroke-width="6.25" stroke-dasharray="25.15 6.29 12.58 6.29"/>
<rect x="1640.00" y="296.50" width="16.0" height="16.0" stroke="#000000" stroke-width="6.25" fill="none"/>
<text x="1696.3" y="329.7" style='font-family:"Liberation Serif",serif' font-size="69" fill="#000">Golomb</text>
<line x1="1615" y1="385.5" x2="1681" y2="385.5" stroke="#ff00ff" stroke-width="6.25" stroke-dasharray="25.15 6.29 12.58 6.29"/>
<polygon points="1648.00,372.12 1659.59,392.19 1636.41,392.19" stroke="#ff00ff" stroke-width="6.25" fill="none" stroke-miterlimit="10"/>
<text x="1696.3" y="410.7" style='font-family:"Liberation Serif",serif' font-size="69" fill="#000">CAN</text>
<line x1="1615" y1="466.5" x2="1681" y2="466.5" stroke="#00ffff" stroke-width="6.25" stroke-dasharray="25.15 6.29 12.58 6.29"/>
<polygon points="1648.00,479.88 1659.59,459.81 1636.41,459.81" stroke="#00ffff" stroke-width="6.25" fill="none" stroke-miterlimit="10"/>
<text x="1696.3" y="491.7" style='font-family:"Liberation Serif",serif' font-size="69" fill="#000">acce-MPI(Golomb)</text>
<line x1="1615" y1="547.5" x2="1681" y2="547.5" stroke="#000000" stroke-width="6.25" stroke-dasharray="25.15 6.29 12.58 6.29"/>
<circle cx="1648.00" cy="547.50" r="10" fill="#000000"/>
<text x="1696.3" y="572.7" style='font-family:"Liberation Serif",serif' font-size="69" fill="#000">acce-MPI(RN)</text>
<line x1="1615" y1="628.5" x2="1681" y2="628.5" stroke="#0000ff" stroke-width="6.25" stroke-dasharray="25.15 6.29 12.58 6.29"/>
<polygon points="1648.00,615.12 1659.59,635.19 1636.41,635.19" stroke="#0000ff" stroke-width="6.25" fill="none" stroke-miterlimit="10"/>
<text x="1696.3" y="653.7" style='font-family:"Liberation Serif",serif' font-size="69" fill="#000">theoretical lower bound</text>
</svg></body></html>
